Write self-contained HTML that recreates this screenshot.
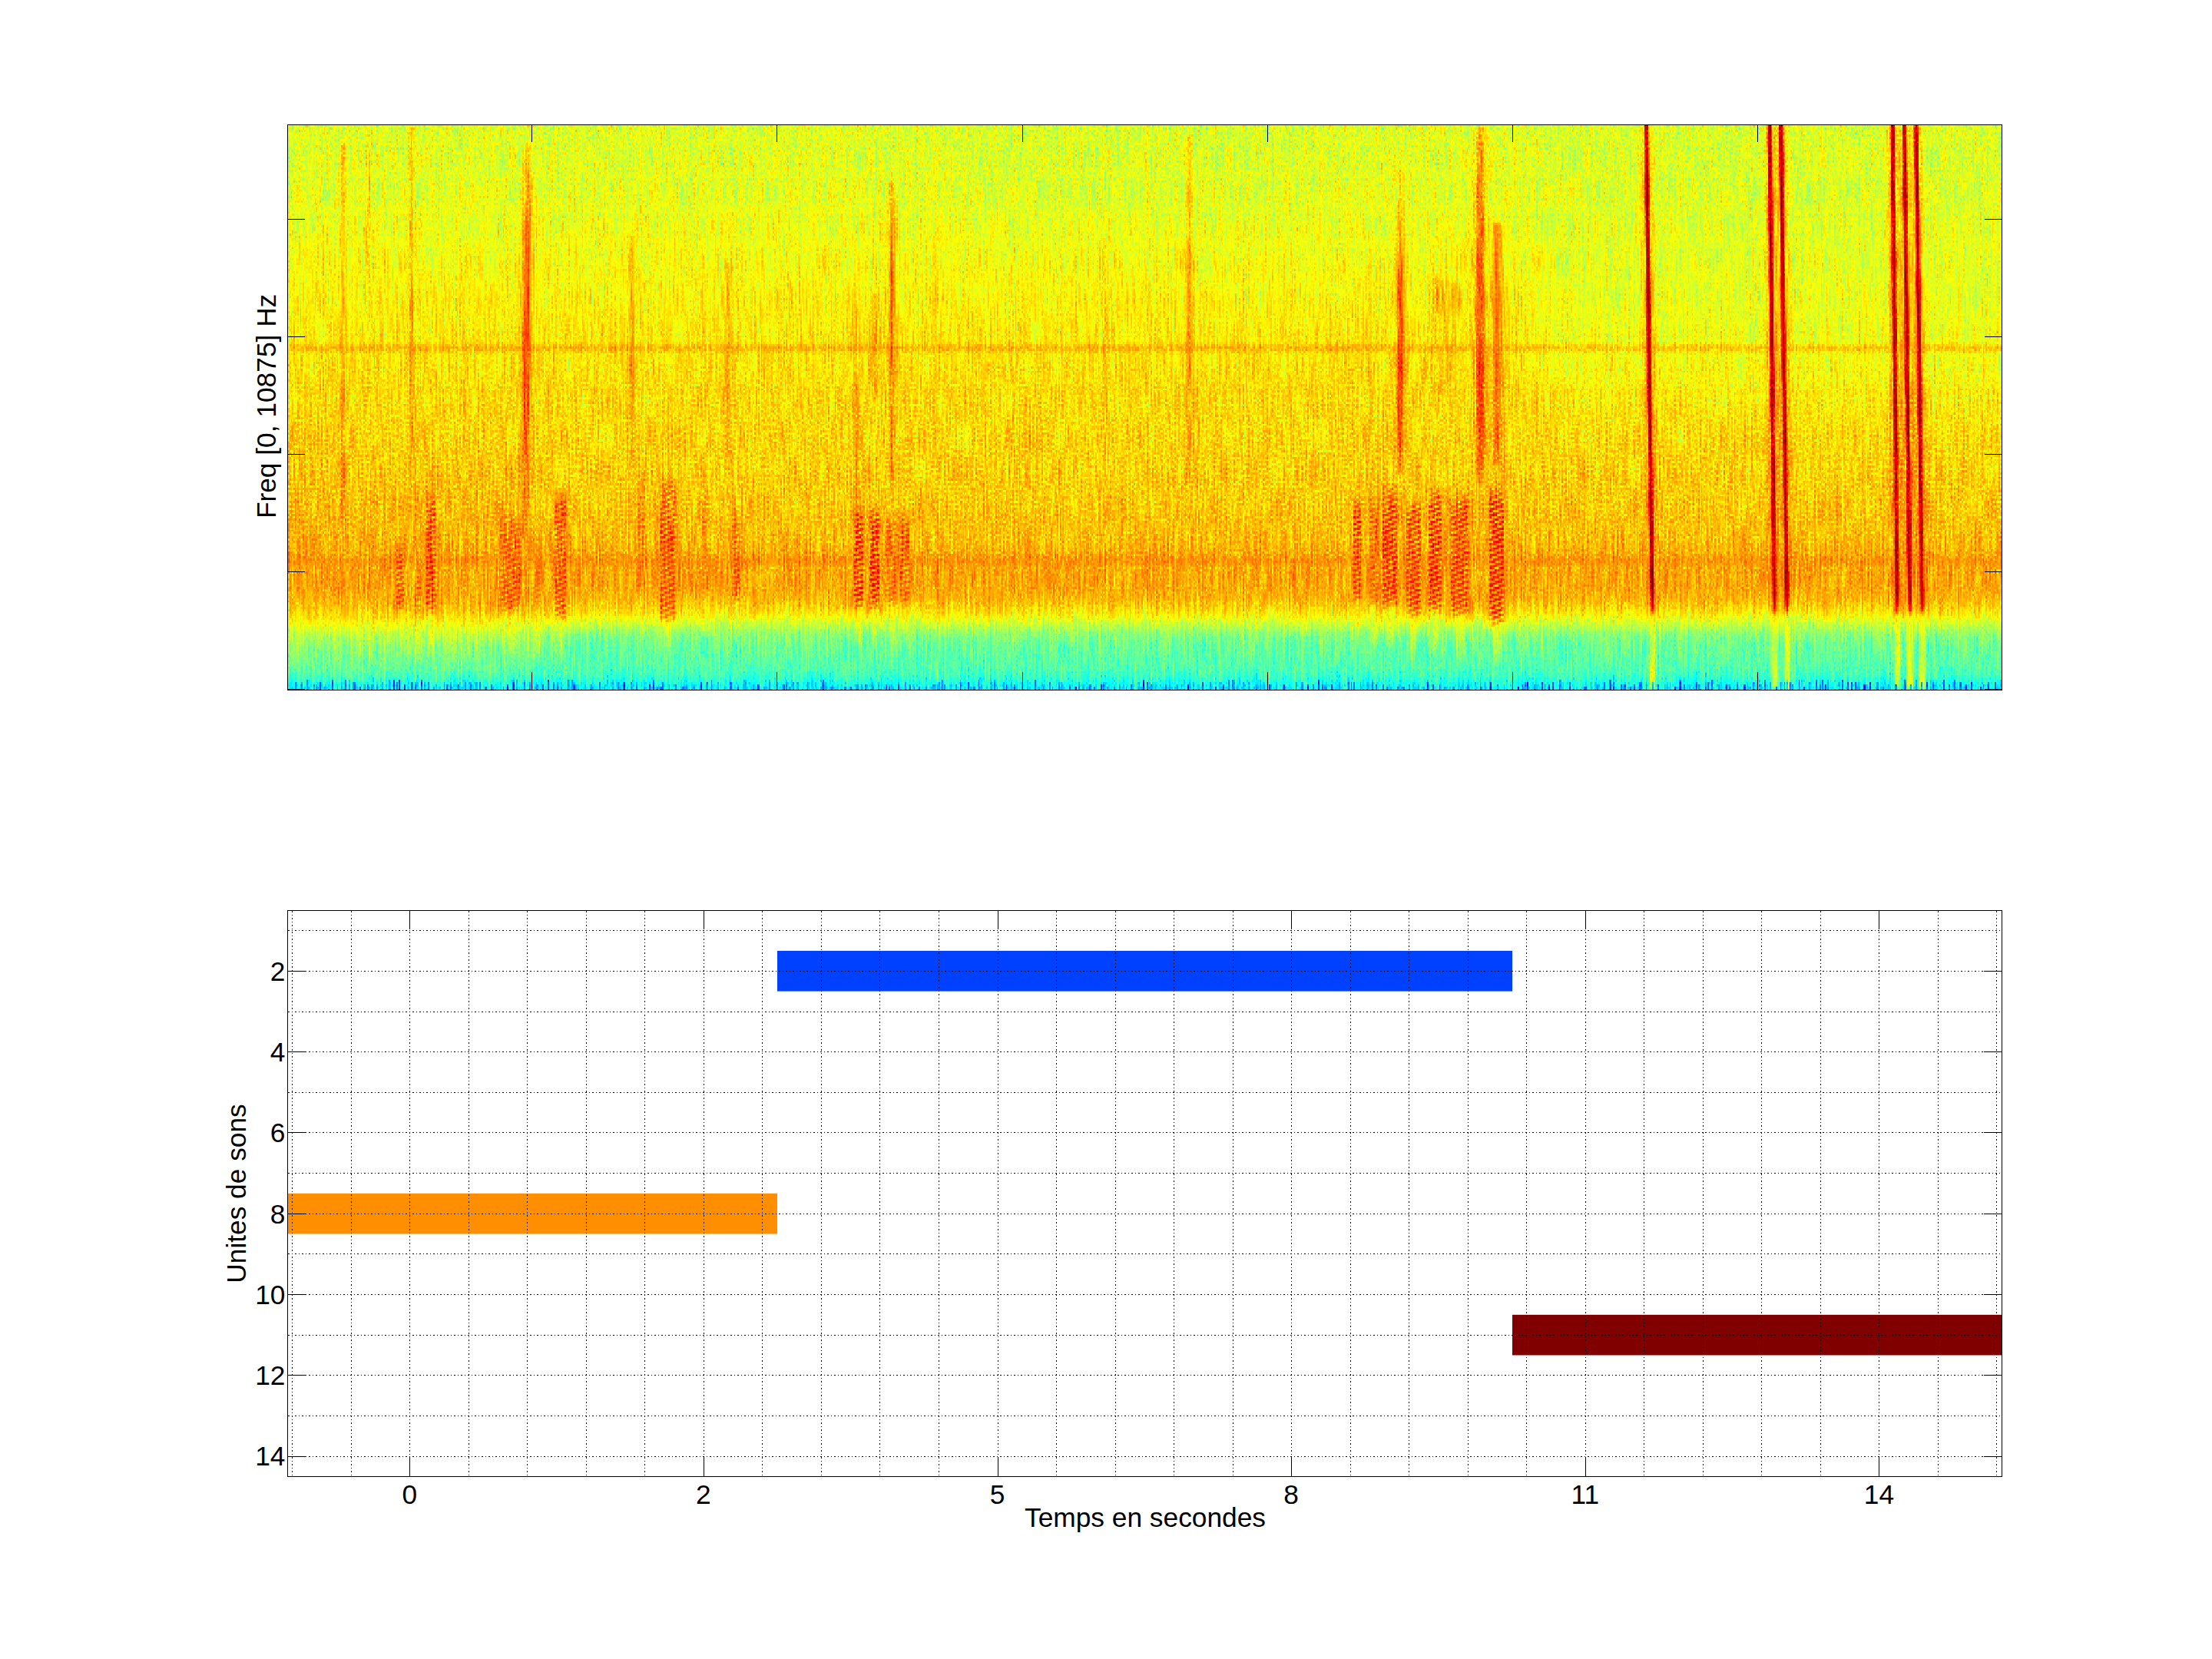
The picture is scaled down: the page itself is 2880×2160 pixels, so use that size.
<!DOCTYPE html><html><head><meta charset="utf-8"><title>Figure</title>
<style>html,body{margin:0;padding:0;background:#fff;width:2880px;height:2160px;overflow:hidden}svg{position:absolute;left:0;top:0}text{font-family:'Liberation Sans', Arial, Helvetica, sans-serif;font-size:35.3px;fill:#000}</style></head><body>
<svg width="2880" height="2160" viewBox="0 0 2880 2160">
<rect width="2880" height="2160" fill="#fff"/>
<defs><filter id="jet" x="375" y="163" width="2231" height="735" filterUnits="userSpaceOnUse" color-interpolation-filters="sRGB"><feTurbulence type="fractalNoise" baseFrequency="0.6 0.35" numOctaves="1" seed="11" result="na"/><feColorMatrix in="na" type="matrix" values="1 0 0 0 0 1 0 0 0 0 1 0 0 0 0 0 0 0 0 1" result="na"/><feComponentTransfer in="na" result="na"><feFuncR type="table" tableValues="0 0.06 0.22 0.38 0.5 0.6 0.68 0.74 0.8"/><feFuncG type="table" tableValues="0 0.06 0.22 0.38 0.5 0.6 0.68 0.74 0.8"/><feFuncB type="table" tableValues="0 0.06 0.22 0.38 0.5 0.6 0.68 0.74 0.8"/></feComponentTransfer><feTurbulence type="fractalNoise" baseFrequency="0.55 0.022" numOctaves="1" seed="4" result="nb"/><feColorMatrix in="nb" type="matrix" values="1 0 0 0 0 1 0 0 0 0 1 0 0 0 0 0 0 0 0 1" result="nb"/><feComposite in="na" in2="nb" operator="arithmetic" k2="0.270" k3="0.220" k4="0.255" result="n"/><feComposite in="SourceGraphic" in2="n" operator="arithmetic" k2="1" k3="1" k4="-0.5" result="v"/><feFlood flood-color="rgb(128,0,0)" x="375" y="163" width="12" height="1" result="tx"/><feFlood flood-color="rgb(64,0,0)" x="376" y="163" width="1" height="1" result="tx1"/><feFlood flood-color="rgb(64,0,0)" x="378" y="163" width="1" height="1" result="tx2"/><feFlood flood-color="rgb(64,0,0)" x="381" y="163" width="1" height="1" result="tx3"/><feFlood flood-color="rgb(64,0,0)" x="383" y="163" width="1" height="1" result="tx4"/><feFlood flood-color="rgb(64,0,0)" x="385" y="163" width="1" height="1" result="tx5"/><feMerge x="375" y="163" width="12" height="1" result="TX"><feMergeNode in="tx"/><feMergeNode in="tx1"/><feMergeNode in="tx2"/><feMergeNode in="tx3"/><feMergeNode in="tx4"/><feMergeNode in="tx5"/></feMerge><feFlood flood-color="rgb(0,128,0)" x="375" y="163" width="1" height="23" result="ty"/><feFlood flood-color="rgb(0,64,0)" x="375" y="164" width="1" height="1" result="ty1"/><feFlood flood-color="rgb(0,0,0)" x="375" y="165" width="1" height="1" result="ty2"/><feFlood flood-color="rgb(0,64,0)" x="375" y="167" width="1" height="1" result="ty3"/><feFlood flood-color="rgb(0,0,0)" x="375" y="168" width="1" height="1" result="ty4"/><feFlood flood-color="rgb(0,64,0)" x="375" y="170" width="1" height="1" result="ty5"/><feFlood flood-color="rgb(0,0,0)" x="375" y="171" width="1" height="1" result="ty6"/><feFlood flood-color="rgb(0,64,0)" x="375" y="173" width="1" height="1" result="ty7"/><feFlood flood-color="rgb(0,0,0)" x="375" y="174" width="1" height="1" result="ty8"/><feFlood flood-color="rgb(0,64,0)" x="375" y="176" width="1" height="1" result="ty9"/><feFlood flood-color="rgb(0,0,0)" x="375" y="177" width="1" height="1" result="ty10"/><feFlood flood-color="rgb(0,64,0)" x="375" y="179" width="1" height="1" result="ty11"/><feFlood flood-color="rgb(0,0,0)" x="375" y="180" width="1" height="1" result="ty12"/><feFlood flood-color="rgb(0,64,0)" x="375" y="182" width="1" height="1" result="ty13"/><feFlood flood-color="rgb(0,0,0)" x="375" y="183" width="1" height="1" result="ty14"/><feFlood flood-color="rgb(0,64,0)" x="375" y="185" width="1" height="1" result="ty15"/><feMerge x="375" y="163" width="1" height="23" result="TY"><feMergeNode in="ty"/><feMergeNode in="ty1"/><feMergeNode in="ty2"/><feMergeNode in="ty3"/><feMergeNode in="ty4"/><feMergeNode in="ty5"/><feMergeNode in="ty6"/><feMergeNode in="ty7"/><feMergeNode in="ty8"/><feMergeNode in="ty9"/><feMergeNode in="ty10"/><feMergeNode in="ty11"/><feMergeNode in="ty12"/><feMergeNode in="ty13"/><feMergeNode in="ty14"/><feMergeNode in="ty15"/></feMerge><feTile in="TX" x="375" y="163" width="2231" height="735" result="MX"/><feTile in="TY" x="375" y="163" width="2231" height="735" result="MY"/><feComposite in="MX" in2="MY" operator="arithmetic" k2="1" k3="1" x="375" y="163" width="2231" height="735" result="M"/><feDisplacementMap in="v" in2="M" scale="4" xChannelSelector="R" yChannelSelector="G" result="v"/><feComponentTransfer in="v"><feFuncR type="table" tableValues="0 0 0 0 0.5 1 1 1 0.5"/><feFuncG type="table" tableValues="0 0 0.5 1 1 1 0.5 0 0"/><feFuncB type="table" tableValues="0.5 1 1 1 0.5 0 0 0 0"/><feFuncA type="identity"/></feComponentTransfer></filter><filter id="b1" x="225" y="13" width="2531" height="1035" filterUnits="userSpaceOnUse"><feGaussianBlur stdDeviation="1 1.5"/></filter><filter id="b2" x="225" y="13" width="2531" height="1035" filterUnits="userSpaceOnUse"><feGaussianBlur stdDeviation="2.5 3"/></filter><filter id="b3" x="225" y="13" width="2531" height="1035" filterUnits="userSpaceOnUse"><feGaussianBlur stdDeviation="30 40"/></filter><filter id="bh" x="225" y="13" width="2531" height="1035" filterUnits="userSpaceOnUse"><feGaussianBlur stdDeviation="1 3"/></filter><filter id="bv" x="225" y="13" width="2531" height="1035" filterUnits="userSpaceOnUse"><feGaussianBlur stdDeviation="0.6 2"/></filter><filter id="bs" x="225" y="13" width="2531" height="1035" filterUnits="userSpaceOnUse"><feGaussianBlur stdDeviation="0.7 0.7"/></filter><linearGradient id="bg" gradientUnits="userSpaceOnUse" x1="0" y1="163" x2="0" y2="898"><stop offset="0.0000" stop-color="rgb(152,152,152)"/><stop offset="0.1184" stop-color="rgb(154,154,154)"/><stop offset="0.2544" stop-color="rgb(159,159,159)"/><stop offset="0.3769" stop-color="rgb(164,164,164)"/><stop offset="0.4857" stop-color="rgb(168,168,168)"/><stop offset="0.5946" stop-color="rgb(170,170,170)"/><stop offset="0.6762" stop-color="rgb(173,173,173)"/><stop offset="0.7306" stop-color="rgb(176,176,176)"/><stop offset="0.7605" stop-color="rgb(180,180,180)"/><stop offset="0.7918" stop-color="rgb(182,182,182)"/><stop offset="0.8190" stop-color="rgb(181,181,181)"/><stop offset="0.8367" stop-color="rgb(178,178,178)"/><stop offset="0.8503" stop-color="rgb(172,172,172)"/><stop offset="0.8626" stop-color="rgb(164,164,164)"/><stop offset="0.8748" stop-color="rgb(153,153,153)"/><stop offset="0.8871" stop-color="rgb(142,142,142)"/><stop offset="0.9007" stop-color="rgb(130,130,130)"/><stop offset="0.9211" stop-color="rgb(122,122,122)"/><stop offset="0.9619" stop-color="rgb(116,116,116)"/><stop offset="0.9728" stop-color="rgb(112,112,112)"/><stop offset="0.9837" stop-color="rgb(103,103,103)"/><stop offset="1.0000" stop-color="rgb(94,94,94)"/></linearGradient><linearGradient id="f1" gradientUnits="userSpaceOnUse" x1="0" y1="185" x2="0" y2="800"><stop offset="0.000" stop-color="rgb(184,184,184)" stop-opacity="0.27"/><stop offset="0.187" stop-color="rgb(184,184,184)" stop-opacity="0.30"/><stop offset="0.431" stop-color="rgb(184,184,184)" stop-opacity="0.36"/><stop offset="0.593" stop-color="rgb(184,184,184)" stop-opacity="0.45"/><stop offset="0.707" stop-color="rgb(184,184,184)" stop-opacity="0.48"/><stop offset="0.837" stop-color="rgb(184,184,184)" stop-opacity="0.36"/><stop offset="1.000" stop-color="rgb(184,184,184)" stop-opacity="0.18"/></linearGradient><linearGradient id="f2" gradientUnits="userSpaceOnUse" x1="0" y1="165" x2="0" y2="390"><stop offset="0.000" stop-color="rgb(184,184,184)" stop-opacity="0.21"/><stop offset="0.511" stop-color="rgb(184,184,184)" stop-opacity="0.27"/><stop offset="0.840" stop-color="rgb(184,184,184)" stop-opacity="0.18"/><stop offset="1.000" stop-color="rgb(184,184,184)" stop-opacity="0.03"/></linearGradient><linearGradient id="f3" gradientUnits="userSpaceOnUse" x1="0" y1="165" x2="0" y2="640"><stop offset="0.000" stop-color="rgb(184,184,184)" stop-opacity="0.36"/><stop offset="0.284" stop-color="rgb(184,184,184)" stop-opacity="0.36"/><stop offset="0.411" stop-color="rgb(184,184,184)" stop-opacity="0.42"/><stop offset="0.579" stop-color="rgb(184,184,184)" stop-opacity="0.54"/><stop offset="0.632" stop-color="rgb(184,184,184)" stop-opacity="0.45"/><stop offset="0.832" stop-color="rgb(184,184,184)" stop-opacity="0.33"/><stop offset="1.000" stop-color="rgb(184,184,184)" stop-opacity="0.18"/></linearGradient><linearGradient id="f4" gradientUnits="userSpaceOnUse" x1="0" y1="354" x2="0" y2="700"><stop offset="0.000" stop-color="rgb(184,184,184)" stop-opacity="0.09"/><stop offset="0.422" stop-color="rgb(184,184,184)" stop-opacity="0.18"/><stop offset="0.769" stop-color="rgb(184,184,184)" stop-opacity="0.18"/><stop offset="1.000" stop-color="rgb(184,184,184)" stop-opacity="0.06"/></linearGradient><linearGradient id="f5" gradientUnits="userSpaceOnUse" x1="0" y1="185" x2="0" y2="700"><stop offset="0.000" stop-color="rgb(184,184,184)" stop-opacity="0.18"/><stop offset="0.146" stop-color="rgb(184,184,184)" stop-opacity="0.33"/><stop offset="0.282" stop-color="rgb(184,184,184)" stop-opacity="0.48"/><stop offset="0.495" stop-color="rgb(184,184,184)" stop-opacity="0.60"/><stop offset="0.612" stop-color="rgb(184,184,184)" stop-opacity="0.60"/><stop offset="0.806" stop-color="rgb(184,184,184)" stop-opacity="0.48"/><stop offset="0.903" stop-color="rgb(184,184,184)" stop-opacity="0.27"/><stop offset="1.000" stop-color="rgb(184,184,184)" stop-opacity="0.12"/></linearGradient><linearGradient id="f6" gradientUnits="userSpaceOnUse" x1="0" y1="305" x2="0" y2="610"><stop offset="0.000" stop-color="rgb(184,184,184)" stop-opacity="0.18"/><stop offset="0.311" stop-color="rgb(184,184,184)" stop-opacity="0.36"/><stop offset="0.639" stop-color="rgb(184,184,184)" stop-opacity="0.39"/><stop offset="1.000" stop-color="rgb(184,184,184)" stop-opacity="0.15"/></linearGradient><linearGradient id="f7" gradientUnits="userSpaceOnUse" x1="0" y1="320" x2="0" y2="600"><stop offset="0.000" stop-color="rgb(184,184,184)" stop-opacity="0.12"/><stop offset="0.500" stop-color="rgb(184,184,184)" stop-opacity="0.18"/><stop offset="1.000" stop-color="rgb(184,184,184)" stop-opacity="0.06"/></linearGradient><linearGradient id="f8" gradientUnits="userSpaceOnUse" x1="0" y1="340" x2="0" y2="650"><stop offset="0.000" stop-color="rgb(184,184,184)" stop-opacity="0.18"/><stop offset="0.355" stop-color="rgb(184,184,184)" stop-opacity="0.36"/><stop offset="0.710" stop-color="rgb(184,184,184)" stop-opacity="0.33"/><stop offset="1.000" stop-color="rgb(184,184,184)" stop-opacity="0.12"/></linearGradient><linearGradient id="f9" gradientUnits="userSpaceOnUse" x1="0" y1="400" x2="0" y2="600"><stop offset="0.000" stop-color="rgb(184,184,184)" stop-opacity="0.12"/><stop offset="1.000" stop-color="rgb(184,184,184)" stop-opacity="0.06"/></linearGradient><linearGradient id="f10" gradientUnits="userSpaceOnUse" x1="0" y1="290" x2="0" y2="500"><stop offset="0.000" stop-color="rgb(184,184,184)" stop-opacity="0.12"/><stop offset="1.000" stop-color="rgb(184,184,184)" stop-opacity="0.06"/></linearGradient><linearGradient id="f11" gradientUnits="userSpaceOnUse" x1="0" y1="400" x2="0" y2="650"><stop offset="0.000" stop-color="rgb(184,184,184)" stop-opacity="0.18"/><stop offset="0.600" stop-color="rgb(184,184,184)" stop-opacity="0.33"/><stop offset="1.000" stop-color="rgb(184,184,184)" stop-opacity="0.36"/></linearGradient><linearGradient id="f12" gradientUnits="userSpaceOnUse" x1="0" y1="380" x2="0" y2="520"><stop offset="0.000" stop-color="rgb(184,184,184)" stop-opacity="0.18"/><stop offset="0.500" stop-color="rgb(184,184,184)" stop-opacity="0.33"/><stop offset="1.000" stop-color="rgb(184,184,184)" stop-opacity="0.18"/></linearGradient><linearGradient id="f13" gradientUnits="userSpaceOnUse" x1="0" y1="235" x2="0" y2="650"><stop offset="0.000" stop-color="rgb(184,184,184)" stop-opacity="0.18"/><stop offset="0.157" stop-color="rgb(184,184,184)" stop-opacity="0.36"/><stop offset="0.373" stop-color="rgb(184,184,184)" stop-opacity="0.54"/><stop offset="0.470" stop-color="rgb(184,184,184)" stop-opacity="0.54"/><stop offset="0.687" stop-color="rgb(184,184,184)" stop-opacity="0.36"/><stop offset="0.906" stop-color="rgb(184,184,184)" stop-opacity="0.24"/><stop offset="1.000" stop-color="rgb(184,184,184)" stop-opacity="0.12"/></linearGradient><linearGradient id="f14" gradientUnits="userSpaceOnUse" x1="0" y1="300" x2="0" y2="611"><stop offset="0.000" stop-color="rgb(184,184,184)" stop-opacity="0.12"/><stop offset="0.643" stop-color="rgb(184,184,184)" stop-opacity="0.18"/><stop offset="1.000" stop-color="rgb(184,184,184)" stop-opacity="0.12"/></linearGradient><linearGradient id="f15" gradientUnits="userSpaceOnUse" x1="0" y1="165" x2="0" y2="880"><stop offset="0.000" stop-color="rgb(184,184,184)" stop-opacity="0.15"/><stop offset="0.469" stop-color="rgb(184,184,184)" stop-opacity="0.18"/><stop offset="1.000" stop-color="rgb(184,184,184)" stop-opacity="0.09"/></linearGradient><linearGradient id="f16" gradientUnits="userSpaceOnUse" x1="0" y1="360" x2="0" y2="800"><stop offset="0.000" stop-color="rgb(184,184,184)" stop-opacity="0.09"/><stop offset="0.545" stop-color="rgb(184,184,184)" stop-opacity="0.12"/><stop offset="1.000" stop-color="rgb(184,184,184)" stop-opacity="0.06"/></linearGradient><linearGradient id="f17" gradientUnits="userSpaceOnUse" x1="0" y1="270" x2="0" y2="600"><stop offset="0.000" stop-color="rgb(184,184,184)" stop-opacity="0.12"/><stop offset="0.545" stop-color="rgb(184,184,184)" stop-opacity="0.24"/><stop offset="1.000" stop-color="rgb(184,184,184)" stop-opacity="0.09"/></linearGradient><linearGradient id="f18" gradientUnits="userSpaceOnUse" x1="0" y1="165" x2="0" y2="500"><stop offset="0.000" stop-color="rgb(184,184,184)" stop-opacity="0.12"/><stop offset="1.000" stop-color="rgb(184,184,184)" stop-opacity="0.06"/></linearGradient><linearGradient id="f19" gradientUnits="userSpaceOnUse" x1="0" y1="175" x2="0" y2="628"><stop offset="0.000" stop-color="rgb(184,184,184)" stop-opacity="0.21"/><stop offset="0.276" stop-color="rgb(184,184,184)" stop-opacity="0.33"/><stop offset="0.386" stop-color="rgb(184,184,184)" stop-opacity="0.45"/><stop offset="0.717" stop-color="rgb(184,184,184)" stop-opacity="0.39"/><stop offset="1.000" stop-color="rgb(184,184,184)" stop-opacity="0.21"/></linearGradient><linearGradient id="f20" gradientUnits="userSpaceOnUse" x1="0" y1="300" x2="0" y2="700"><stop offset="0.000" stop-color="rgb(184,184,184)" stop-opacity="0.12"/><stop offset="0.500" stop-color="rgb(184,184,184)" stop-opacity="0.18"/><stop offset="1.000" stop-color="rgb(184,184,184)" stop-opacity="0.06"/></linearGradient><linearGradient id="f21" gradientUnits="userSpaceOnUse" x1="0" y1="220" x2="0" y2="618"><stop offset="0.000" stop-color="rgb(184,184,184)" stop-opacity="0.12"/><stop offset="0.276" stop-color="rgb(184,184,184)" stop-opacity="0.27"/><stop offset="0.352" stop-color="rgb(184,184,184)" stop-opacity="0.54"/><stop offset="0.452" stop-color="rgb(184,184,184)" stop-opacity="0.57"/><stop offset="0.553" stop-color="rgb(184,184,184)" stop-opacity="0.48"/><stop offset="0.628" stop-color="rgb(184,184,184)" stop-opacity="0.60"/><stop offset="0.754" stop-color="rgb(184,184,184)" stop-opacity="0.60"/><stop offset="1.000" stop-color="rgb(184,184,184)" stop-opacity="0.27"/></linearGradient><linearGradient id="f22" gradientUnits="userSpaceOnUse" x1="0" y1="165" x2="0" y2="630"><stop offset="0.000" stop-color="rgb(184,184,184)" stop-opacity="0.21"/><stop offset="0.290" stop-color="rgb(184,184,184)" stop-opacity="0.42"/><stop offset="0.548" stop-color="rgb(184,184,184)" stop-opacity="0.48"/><stop offset="0.677" stop-color="rgb(184,184,184)" stop-opacity="0.60"/><stop offset="0.849" stop-color="rgb(184,184,184)" stop-opacity="0.60"/><stop offset="0.935" stop-color="rgb(184,184,184)" stop-opacity="0.36"/><stop offset="1.000" stop-color="rgb(184,184,184)" stop-opacity="0.15"/></linearGradient><linearGradient id="f23" gradientUnits="userSpaceOnUse" x1="0" y1="289" x2="0" y2="606"><stop offset="0.000" stop-color="rgb(184,184,184)" stop-opacity="0.36"/><stop offset="0.508" stop-color="rgb(184,184,184)" stop-opacity="0.45"/><stop offset="1.000" stop-color="rgb(184,184,184)" stop-opacity="0.39"/></linearGradient><linearGradient id="f24" gradientUnits="userSpaceOnUse" x1="0" y1="290" x2="0" y2="640"><stop offset="0.000" stop-color="rgb(184,184,184)" stop-opacity="0.18"/><stop offset="0.314" stop-color="rgb(184,184,184)" stop-opacity="0.33"/><stop offset="0.886" stop-color="rgb(184,184,184)" stop-opacity="0.30"/><stop offset="1.000" stop-color="rgb(184,184,184)" stop-opacity="0.06"/></linearGradient><linearGradient id="f25" gradientUnits="userSpaceOnUse" x1="0" y1="185" x2="0" y2="800"><stop offset="0.000" stop-color="rgb(194,194,194)" stop-opacity="0.45"/><stop offset="0.187" stop-color="rgb(194,194,194)" stop-opacity="0.50"/><stop offset="0.431" stop-color="rgb(194,194,194)" stop-opacity="0.60"/><stop offset="0.593" stop-color="rgb(194,194,194)" stop-opacity="0.75"/><stop offset="0.707" stop-color="rgb(194,194,194)" stop-opacity="0.80"/><stop offset="0.837" stop-color="rgb(194,194,194)" stop-opacity="0.60"/><stop offset="1.000" stop-color="rgb(194,194,194)" stop-opacity="0.30"/></linearGradient><linearGradient id="f26" gradientUnits="userSpaceOnUse" x1="0" y1="165" x2="0" y2="390"><stop offset="0.000" stop-color="rgb(186,186,186)" stop-opacity="0.35"/><stop offset="0.511" stop-color="rgb(186,186,186)" stop-opacity="0.45"/><stop offset="0.840" stop-color="rgb(186,186,186)" stop-opacity="0.30"/><stop offset="1.000" stop-color="rgb(186,186,186)" stop-opacity="0.05"/></linearGradient><linearGradient id="f27" gradientUnits="userSpaceOnUse" x1="0" y1="165" x2="0" y2="640"><stop offset="0.000" stop-color="rgb(194,194,194)" stop-opacity="0.60"/><stop offset="0.284" stop-color="rgb(194,194,194)" stop-opacity="0.60"/><stop offset="0.411" stop-color="rgb(194,194,194)" stop-opacity="0.70"/><stop offset="0.579" stop-color="rgb(194,194,194)" stop-opacity="0.90"/><stop offset="0.632" stop-color="rgb(194,194,194)" stop-opacity="0.75"/><stop offset="0.832" stop-color="rgb(194,194,194)" stop-opacity="0.55"/><stop offset="1.000" stop-color="rgb(194,194,194)" stop-opacity="0.30"/></linearGradient><linearGradient id="f28" gradientUnits="userSpaceOnUse" x1="0" y1="354" x2="0" y2="700"><stop offset="0.000" stop-color="rgb(186,186,186)" stop-opacity="0.15"/><stop offset="0.422" stop-color="rgb(186,186,186)" stop-opacity="0.30"/><stop offset="0.769" stop-color="rgb(186,186,186)" stop-opacity="0.30"/><stop offset="1.000" stop-color="rgb(186,186,186)" stop-opacity="0.10"/></linearGradient><linearGradient id="f29" gradientUnits="userSpaceOnUse" x1="0" y1="185" x2="0" y2="700"><stop offset="0.000" stop-color="rgb(204,204,204)" stop-opacity="0.30"/><stop offset="0.146" stop-color="rgb(204,204,204)" stop-opacity="0.55"/><stop offset="0.282" stop-color="rgb(204,204,204)" stop-opacity="0.80"/><stop offset="0.495" stop-color="rgb(204,204,204)" stop-opacity="1.00"/><stop offset="0.612" stop-color="rgb(204,204,204)" stop-opacity="1.00"/><stop offset="0.806" stop-color="rgb(204,204,204)" stop-opacity="0.80"/><stop offset="0.903" stop-color="rgb(204,204,204)" stop-opacity="0.45"/><stop offset="1.000" stop-color="rgb(204,204,204)" stop-opacity="0.20"/></linearGradient><linearGradient id="f30" gradientUnits="userSpaceOnUse" x1="0" y1="305" x2="0" y2="610"><stop offset="0.000" stop-color="rgb(191,191,191)" stop-opacity="0.30"/><stop offset="0.311" stop-color="rgb(191,191,191)" stop-opacity="0.60"/><stop offset="0.639" stop-color="rgb(191,191,191)" stop-opacity="0.65"/><stop offset="1.000" stop-color="rgb(191,191,191)" stop-opacity="0.25"/></linearGradient><linearGradient id="f31" gradientUnits="userSpaceOnUse" x1="0" y1="320" x2="0" y2="600"><stop offset="0.000" stop-color="rgb(184,184,184)" stop-opacity="0.20"/><stop offset="0.500" stop-color="rgb(184,184,184)" stop-opacity="0.30"/><stop offset="1.000" stop-color="rgb(184,184,184)" stop-opacity="0.10"/></linearGradient><linearGradient id="f32" gradientUnits="userSpaceOnUse" x1="0" y1="340" x2="0" y2="650"><stop offset="0.000" stop-color="rgb(191,191,191)" stop-opacity="0.30"/><stop offset="0.355" stop-color="rgb(191,191,191)" stop-opacity="0.60"/><stop offset="0.710" stop-color="rgb(191,191,191)" stop-opacity="0.55"/><stop offset="1.000" stop-color="rgb(191,191,191)" stop-opacity="0.20"/></linearGradient><linearGradient id="f33" gradientUnits="userSpaceOnUse" x1="0" y1="400" x2="0" y2="600"><stop offset="0.000" stop-color="rgb(184,184,184)" stop-opacity="0.20"/><stop offset="1.000" stop-color="rgb(184,184,184)" stop-opacity="0.10"/></linearGradient><linearGradient id="f34" gradientUnits="userSpaceOnUse" x1="0" y1="290" x2="0" y2="500"><stop offset="0.000" stop-color="rgb(184,184,184)" stop-opacity="0.20"/><stop offset="1.000" stop-color="rgb(184,184,184)" stop-opacity="0.10"/></linearGradient><linearGradient id="f35" gradientUnits="userSpaceOnUse" x1="0" y1="400" x2="0" y2="650"><stop offset="0.000" stop-color="rgb(194,194,194)" stop-opacity="0.30"/><stop offset="0.600" stop-color="rgb(194,194,194)" stop-opacity="0.55"/><stop offset="1.000" stop-color="rgb(194,194,194)" stop-opacity="0.60"/></linearGradient><linearGradient id="f36" gradientUnits="userSpaceOnUse" x1="0" y1="380" x2="0" y2="520"><stop offset="0.000" stop-color="rgb(191,191,191)" stop-opacity="0.30"/><stop offset="0.500" stop-color="rgb(191,191,191)" stop-opacity="0.55"/><stop offset="1.000" stop-color="rgb(191,191,191)" stop-opacity="0.30"/></linearGradient><linearGradient id="f37" gradientUnits="userSpaceOnUse" x1="0" y1="235" x2="0" y2="650"><stop offset="0.000" stop-color="rgb(201,201,201)" stop-opacity="0.30"/><stop offset="0.157" stop-color="rgb(201,201,201)" stop-opacity="0.60"/><stop offset="0.373" stop-color="rgb(201,201,201)" stop-opacity="0.90"/><stop offset="0.470" stop-color="rgb(201,201,201)" stop-opacity="0.90"/><stop offset="0.687" stop-color="rgb(201,201,201)" stop-opacity="0.60"/><stop offset="0.906" stop-color="rgb(201,201,201)" stop-opacity="0.40"/><stop offset="1.000" stop-color="rgb(201,201,201)" stop-opacity="0.20"/></linearGradient><linearGradient id="f38" gradientUnits="userSpaceOnUse" x1="0" y1="300" x2="0" y2="611"><stop offset="0.000" stop-color="rgb(184,184,184)" stop-opacity="0.20"/><stop offset="0.643" stop-color="rgb(184,184,184)" stop-opacity="0.30"/><stop offset="1.000" stop-color="rgb(184,184,184)" stop-opacity="0.20"/></linearGradient><linearGradient id="f39" gradientUnits="userSpaceOnUse" x1="0" y1="165" x2="0" y2="880"><stop offset="0.000" stop-color="rgb(184,184,184)" stop-opacity="0.25"/><stop offset="0.469" stop-color="rgb(184,184,184)" stop-opacity="0.30"/><stop offset="1.000" stop-color="rgb(184,184,184)" stop-opacity="0.15"/></linearGradient><linearGradient id="f40" gradientUnits="userSpaceOnUse" x1="0" y1="360" x2="0" y2="800"><stop offset="0.000" stop-color="rgb(184,184,184)" stop-opacity="0.15"/><stop offset="0.545" stop-color="rgb(184,184,184)" stop-opacity="0.20"/><stop offset="1.000" stop-color="rgb(184,184,184)" stop-opacity="0.10"/></linearGradient><linearGradient id="f41" gradientUnits="userSpaceOnUse" x1="0" y1="270" x2="0" y2="600"><stop offset="0.000" stop-color="rgb(189,189,189)" stop-opacity="0.20"/><stop offset="0.545" stop-color="rgb(189,189,189)" stop-opacity="0.40"/><stop offset="1.000" stop-color="rgb(189,189,189)" stop-opacity="0.15"/></linearGradient><linearGradient id="f42" gradientUnits="userSpaceOnUse" x1="0" y1="165" x2="0" y2="500"><stop offset="0.000" stop-color="rgb(184,184,184)" stop-opacity="0.20"/><stop offset="1.000" stop-color="rgb(184,184,184)" stop-opacity="0.10"/></linearGradient><linearGradient id="f43" gradientUnits="userSpaceOnUse" x1="0" y1="175" x2="0" y2="628"><stop offset="0.000" stop-color="rgb(194,194,194)" stop-opacity="0.35"/><stop offset="0.276" stop-color="rgb(194,194,194)" stop-opacity="0.55"/><stop offset="0.386" stop-color="rgb(194,194,194)" stop-opacity="0.75"/><stop offset="0.717" stop-color="rgb(194,194,194)" stop-opacity="0.65"/><stop offset="1.000" stop-color="rgb(194,194,194)" stop-opacity="0.35"/></linearGradient><linearGradient id="f44" gradientUnits="userSpaceOnUse" x1="0" y1="300" x2="0" y2="700"><stop offset="0.000" stop-color="rgb(184,184,184)" stop-opacity="0.20"/><stop offset="0.500" stop-color="rgb(184,184,184)" stop-opacity="0.30"/><stop offset="1.000" stop-color="rgb(184,184,184)" stop-opacity="0.10"/></linearGradient><linearGradient id="f45" gradientUnits="userSpaceOnUse" x1="0" y1="220" x2="0" y2="618"><stop offset="0.000" stop-color="rgb(207,207,207)" stop-opacity="0.20"/><stop offset="0.276" stop-color="rgb(207,207,207)" stop-opacity="0.45"/><stop offset="0.352" stop-color="rgb(207,207,207)" stop-opacity="0.90"/><stop offset="0.452" stop-color="rgb(207,207,207)" stop-opacity="0.95"/><stop offset="0.553" stop-color="rgb(207,207,207)" stop-opacity="0.80"/><stop offset="0.628" stop-color="rgb(207,207,207)" stop-opacity="1.00"/><stop offset="0.754" stop-color="rgb(207,207,207)" stop-opacity="1.00"/><stop offset="1.000" stop-color="rgb(207,207,207)" stop-opacity="0.45"/></linearGradient><linearGradient id="f46" gradientUnits="userSpaceOnUse" x1="0" y1="165" x2="0" y2="630"><stop offset="0.000" stop-color="rgb(209,209,209)" stop-opacity="0.35"/><stop offset="0.290" stop-color="rgb(209,209,209)" stop-opacity="0.70"/><stop offset="0.548" stop-color="rgb(209,209,209)" stop-opacity="0.80"/><stop offset="0.677" stop-color="rgb(209,209,209)" stop-opacity="1.00"/><stop offset="0.849" stop-color="rgb(209,209,209)" stop-opacity="1.00"/><stop offset="0.935" stop-color="rgb(209,209,209)" stop-opacity="0.60"/><stop offset="1.000" stop-color="rgb(209,209,209)" stop-opacity="0.25"/></linearGradient><linearGradient id="f47" gradientUnits="userSpaceOnUse" x1="0" y1="289" x2="0" y2="606"><stop offset="0.000" stop-color="rgb(201,201,201)" stop-opacity="0.60"/><stop offset="0.508" stop-color="rgb(201,201,201)" stop-opacity="0.75"/><stop offset="1.000" stop-color="rgb(201,201,201)" stop-opacity="0.65"/></linearGradient><linearGradient id="f48" gradientUnits="userSpaceOnUse" x1="0" y1="290" x2="0" y2="640"><stop offset="0.000" stop-color="rgb(191,191,191)" stop-opacity="0.30"/><stop offset="0.314" stop-color="rgb(191,191,191)" stop-opacity="0.55"/><stop offset="0.886" stop-color="rgb(191,191,191)" stop-opacity="0.50"/><stop offset="1.000" stop-color="rgb(191,191,191)" stop-opacity="0.10"/></linearGradient><linearGradient id="f49" gradientUnits="userSpaceOnUse" x1="0" y1="685" x2="0" y2="805"><stop offset="0.000" stop-color="rgb(187,187,187)" stop-opacity="0.00"/><stop offset="0.250" stop-color="rgb(187,187,187)" stop-opacity="0.45"/><stop offset="0.792" stop-color="rgb(187,187,187)" stop-opacity="0.45"/><stop offset="1.000" stop-color="rgb(187,187,187)" stop-opacity="0.00"/></linearGradient><linearGradient id="f50" gradientUnits="userSpaceOnUse" x1="0" y1="705" x2="0" y2="815"><stop offset="0.000" stop-color="rgb(187,187,187)" stop-opacity="0.00"/><stop offset="0.273" stop-color="rgb(187,187,187)" stop-opacity="0.35"/><stop offset="0.773" stop-color="rgb(187,187,187)" stop-opacity="0.35"/><stop offset="1.000" stop-color="rgb(187,187,187)" stop-opacity="0.00"/></linearGradient><linearGradient id="f51" gradientUnits="userSpaceOnUse" x1="0" y1="625" x2="0" y2="810"><stop offset="0.000" stop-color="rgb(187,187,187)" stop-opacity="0.00"/><stop offset="0.162" stop-color="rgb(187,187,187)" stop-opacity="0.45"/><stop offset="0.865" stop-color="rgb(187,187,187)" stop-opacity="0.45"/><stop offset="1.000" stop-color="rgb(187,187,187)" stop-opacity="0.00"/></linearGradient><linearGradient id="f52" gradientUnits="userSpaceOnUse" x1="0" y1="655" x2="0" y2="810"><stop offset="0.000" stop-color="rgb(187,187,187)" stop-opacity="0.00"/><stop offset="0.194" stop-color="rgb(187,187,187)" stop-opacity="0.40"/><stop offset="0.839" stop-color="rgb(187,187,187)" stop-opacity="0.40"/><stop offset="1.000" stop-color="rgb(187,187,187)" stop-opacity="0.00"/></linearGradient><linearGradient id="f53" gradientUnits="userSpaceOnUse" x1="0" y1="685" x2="0" y2="810"><stop offset="0.000" stop-color="rgb(187,187,187)" stop-opacity="0.00"/><stop offset="0.240" stop-color="rgb(187,187,187)" stop-opacity="0.30"/><stop offset="0.800" stop-color="rgb(187,187,187)" stop-opacity="0.30"/><stop offset="1.000" stop-color="rgb(187,187,187)" stop-opacity="0.00"/></linearGradient><linearGradient id="f54" gradientUnits="userSpaceOnUse" x1="0" y1="625" x2="0" y2="820"><stop offset="0.000" stop-color="rgb(187,187,187)" stop-opacity="0.00"/><stop offset="0.154" stop-color="rgb(187,187,187)" stop-opacity="0.42"/><stop offset="0.872" stop-color="rgb(187,187,187)" stop-opacity="0.42"/><stop offset="1.000" stop-color="rgb(187,187,187)" stop-opacity="0.00"/></linearGradient><linearGradient id="f55" gradientUnits="userSpaceOnUse" x1="0" y1="595" x2="0" y2="790"><stop offset="0.000" stop-color="rgb(187,187,187)" stop-opacity="0.00"/><stop offset="0.154" stop-color="rgb(187,187,187)" stop-opacity="0.30"/><stop offset="0.872" stop-color="rgb(187,187,187)" stop-opacity="0.30"/><stop offset="1.000" stop-color="rgb(187,187,187)" stop-opacity="0.00"/></linearGradient><linearGradient id="f56" gradientUnits="userSpaceOnUse" x1="0" y1="605" x2="0" y2="820"><stop offset="0.000" stop-color="rgb(187,187,187)" stop-opacity="0.00"/><stop offset="0.140" stop-color="rgb(187,187,187)" stop-opacity="0.40"/><stop offset="0.884" stop-color="rgb(187,187,187)" stop-opacity="0.40"/><stop offset="1.000" stop-color="rgb(187,187,187)" stop-opacity="0.00"/></linearGradient><linearGradient id="f57" gradientUnits="userSpaceOnUse" x1="0" y1="625" x2="0" y2="790"><stop offset="0.000" stop-color="rgb(187,187,187)" stop-opacity="0.00"/><stop offset="0.182" stop-color="rgb(187,187,187)" stop-opacity="0.30"/><stop offset="0.848" stop-color="rgb(187,187,187)" stop-opacity="0.30"/><stop offset="1.000" stop-color="rgb(187,187,187)" stop-opacity="0.00"/></linearGradient><linearGradient id="f58" gradientUnits="userSpaceOnUse" x1="0" y1="645" x2="0" y2="795"><stop offset="0.000" stop-color="rgb(187,187,187)" stop-opacity="0.00"/><stop offset="0.200" stop-color="rgb(187,187,187)" stop-opacity="0.38"/><stop offset="0.833" stop-color="rgb(187,187,187)" stop-opacity="0.38"/><stop offset="1.000" stop-color="rgb(187,187,187)" stop-opacity="0.00"/></linearGradient><linearGradient id="f59" gradientUnits="userSpaceOnUse" x1="0" y1="645" x2="0" y2="805"><stop offset="0.000" stop-color="rgb(187,187,187)" stop-opacity="0.00"/><stop offset="0.188" stop-color="rgb(187,187,187)" stop-opacity="0.47"/><stop offset="0.844" stop-color="rgb(187,187,187)" stop-opacity="0.47"/><stop offset="1.000" stop-color="rgb(187,187,187)" stop-opacity="0.00"/></linearGradient><linearGradient id="f60" gradientUnits="userSpaceOnUse" x1="0" y1="640" x2="0" y2="805"><stop offset="0.000" stop-color="rgb(187,187,187)" stop-opacity="0.00"/><stop offset="0.182" stop-color="rgb(187,187,187)" stop-opacity="0.47"/><stop offset="0.848" stop-color="rgb(187,187,187)" stop-opacity="0.47"/><stop offset="1.000" stop-color="rgb(187,187,187)" stop-opacity="0.00"/></linearGradient><linearGradient id="f61" gradientUnits="userSpaceOnUse" x1="0" y1="645" x2="0" y2="800"><stop offset="0.000" stop-color="rgb(187,187,187)" stop-opacity="0.00"/><stop offset="0.194" stop-color="rgb(187,187,187)" stop-opacity="0.35"/><stop offset="0.839" stop-color="rgb(187,187,187)" stop-opacity="0.35"/><stop offset="1.000" stop-color="rgb(187,187,187)" stop-opacity="0.00"/></linearGradient><linearGradient id="f62" gradientUnits="userSpaceOnUse" x1="0" y1="645" x2="0" y2="800"><stop offset="0.000" stop-color="rgb(187,187,187)" stop-opacity="0.00"/><stop offset="0.194" stop-color="rgb(187,187,187)" stop-opacity="0.40"/><stop offset="0.839" stop-color="rgb(187,187,187)" stop-opacity="0.40"/><stop offset="1.000" stop-color="rgb(187,187,187)" stop-opacity="0.00"/></linearGradient><linearGradient id="f63" gradientUnits="userSpaceOnUse" x1="0" y1="627" x2="0" y2="794"><stop offset="0.000" stop-color="rgb(187,187,187)" stop-opacity="0.00"/><stop offset="0.180" stop-color="rgb(187,187,187)" stop-opacity="0.45"/><stop offset="0.850" stop-color="rgb(187,187,187)" stop-opacity="0.45"/><stop offset="1.000" stop-color="rgb(187,187,187)" stop-opacity="0.00"/></linearGradient><linearGradient id="f64" gradientUnits="userSpaceOnUse" x1="0" y1="625" x2="0" y2="800"><stop offset="0.000" stop-color="rgb(187,187,187)" stop-opacity="0.00"/><stop offset="0.171" stop-color="rgb(187,187,187)" stop-opacity="0.35"/><stop offset="0.857" stop-color="rgb(187,187,187)" stop-opacity="0.35"/><stop offset="1.000" stop-color="rgb(187,187,187)" stop-opacity="0.00"/></linearGradient><linearGradient id="f65" gradientUnits="userSpaceOnUse" x1="0" y1="615" x2="0" y2="805"><stop offset="0.000" stop-color="rgb(187,187,187)" stop-opacity="0.00"/><stop offset="0.158" stop-color="rgb(187,187,187)" stop-opacity="0.45"/><stop offset="0.868" stop-color="rgb(187,187,187)" stop-opacity="0.45"/><stop offset="1.000" stop-color="rgb(187,187,187)" stop-opacity="0.00"/></linearGradient><linearGradient id="f66" gradientUnits="userSpaceOnUse" x1="0" y1="635" x2="0" y2="815"><stop offset="0.000" stop-color="rgb(187,187,187)" stop-opacity="0.00"/><stop offset="0.167" stop-color="rgb(187,187,187)" stop-opacity="0.45"/><stop offset="0.861" stop-color="rgb(187,187,187)" stop-opacity="0.45"/><stop offset="1.000" stop-color="rgb(187,187,187)" stop-opacity="0.00"/></linearGradient><linearGradient id="f67" gradientUnits="userSpaceOnUse" x1="0" y1="618" x2="0" y2="810"><stop offset="0.000" stop-color="rgb(187,187,187)" stop-opacity="0.00"/><stop offset="0.156" stop-color="rgb(187,187,187)" stop-opacity="0.45"/><stop offset="0.870" stop-color="rgb(187,187,187)" stop-opacity="0.45"/><stop offset="1.000" stop-color="rgb(187,187,187)" stop-opacity="0.00"/></linearGradient><linearGradient id="f68" gradientUnits="userSpaceOnUse" x1="0" y1="625" x2="0" y2="815"><stop offset="0.000" stop-color="rgb(187,187,187)" stop-opacity="0.00"/><stop offset="0.158" stop-color="rgb(187,187,187)" stop-opacity="0.45"/><stop offset="0.868" stop-color="rgb(187,187,187)" stop-opacity="0.45"/><stop offset="1.000" stop-color="rgb(187,187,187)" stop-opacity="0.00"/></linearGradient><linearGradient id="f69" gradientUnits="userSpaceOnUse" x1="0" y1="615" x2="0" y2="825"><stop offset="0.000" stop-color="rgb(187,187,187)" stop-opacity="0.00"/><stop offset="0.143" stop-color="rgb(187,187,187)" stop-opacity="0.47"/><stop offset="0.881" stop-color="rgb(187,187,187)" stop-opacity="0.47"/><stop offset="1.000" stop-color="rgb(187,187,187)" stop-opacity="0.00"/></linearGradient><linearGradient id="f70" gradientUnits="userSpaceOnUse" x1="0" y1="785" x2="0" y2="850"><stop offset="0.000" stop-color="rgb(158,158,158)" stop-opacity="0.00"/><stop offset="0.154" stop-color="rgb(158,158,158)" stop-opacity="0.80"/><stop offset="0.538" stop-color="rgb(158,158,158)" stop-opacity="0.60"/><stop offset="1.000" stop-color="rgb(158,158,158)" stop-opacity="0.00"/></linearGradient><linearGradient id="f71" gradientUnits="userSpaceOnUse" x1="0" y1="795" x2="0" y2="860"><stop offset="0.000" stop-color="rgb(158,158,158)" stop-opacity="0.00"/><stop offset="0.154" stop-color="rgb(158,158,158)" stop-opacity="0.80"/><stop offset="0.538" stop-color="rgb(158,158,158)" stop-opacity="0.60"/><stop offset="1.000" stop-color="rgb(158,158,158)" stop-opacity="0.00"/></linearGradient><linearGradient id="f72" gradientUnits="userSpaceOnUse" x1="0" y1="790" x2="0" y2="855"><stop offset="0.000" stop-color="rgb(158,158,158)" stop-opacity="0.00"/><stop offset="0.154" stop-color="rgb(158,158,158)" stop-opacity="0.80"/><stop offset="0.538" stop-color="rgb(158,158,158)" stop-opacity="0.60"/><stop offset="1.000" stop-color="rgb(158,158,158)" stop-opacity="0.00"/></linearGradient><linearGradient id="f73" gradientUnits="userSpaceOnUse" x1="0" y1="790" x2="0" y2="855"><stop offset="0.000" stop-color="rgb(158,158,158)" stop-opacity="0.00"/><stop offset="0.154" stop-color="rgb(158,158,158)" stop-opacity="0.80"/><stop offset="0.538" stop-color="rgb(158,158,158)" stop-opacity="0.60"/><stop offset="1.000" stop-color="rgb(158,158,158)" stop-opacity="0.00"/></linearGradient><linearGradient id="f74" gradientUnits="userSpaceOnUse" x1="0" y1="790" x2="0" y2="855"><stop offset="0.000" stop-color="rgb(158,158,158)" stop-opacity="0.00"/><stop offset="0.154" stop-color="rgb(158,158,158)" stop-opacity="0.80"/><stop offset="0.538" stop-color="rgb(158,158,158)" stop-opacity="0.60"/><stop offset="1.000" stop-color="rgb(158,158,158)" stop-opacity="0.00"/></linearGradient><linearGradient id="f75" gradientUnits="userSpaceOnUse" x1="0" y1="800" x2="0" y2="865"><stop offset="0.000" stop-color="rgb(158,158,158)" stop-opacity="0.00"/><stop offset="0.154" stop-color="rgb(158,158,158)" stop-opacity="0.80"/><stop offset="0.538" stop-color="rgb(158,158,158)" stop-opacity="0.60"/><stop offset="1.000" stop-color="rgb(158,158,158)" stop-opacity="0.00"/></linearGradient><linearGradient id="f76" gradientUnits="userSpaceOnUse" x1="0" y1="770" x2="0" y2="835"><stop offset="0.000" stop-color="rgb(158,158,158)" stop-opacity="0.00"/><stop offset="0.154" stop-color="rgb(158,158,158)" stop-opacity="0.80"/><stop offset="0.538" stop-color="rgb(158,158,158)" stop-opacity="0.60"/><stop offset="1.000" stop-color="rgb(158,158,158)" stop-opacity="0.00"/></linearGradient><linearGradient id="f77" gradientUnits="userSpaceOnUse" x1="0" y1="800" x2="0" y2="865"><stop offset="0.000" stop-color="rgb(158,158,158)" stop-opacity="0.00"/><stop offset="0.154" stop-color="rgb(158,158,158)" stop-opacity="0.80"/><stop offset="0.538" stop-color="rgb(158,158,158)" stop-opacity="0.60"/><stop offset="1.000" stop-color="rgb(158,158,158)" stop-opacity="0.00"/></linearGradient><linearGradient id="f78" gradientUnits="userSpaceOnUse" x1="0" y1="770" x2="0" y2="835"><stop offset="0.000" stop-color="rgb(158,158,158)" stop-opacity="0.00"/><stop offset="0.154" stop-color="rgb(158,158,158)" stop-opacity="0.80"/><stop offset="0.538" stop-color="rgb(158,158,158)" stop-opacity="0.60"/><stop offset="1.000" stop-color="rgb(158,158,158)" stop-opacity="0.00"/></linearGradient><linearGradient id="f79" gradientUnits="userSpaceOnUse" x1="0" y1="775" x2="0" y2="840"><stop offset="0.000" stop-color="rgb(158,158,158)" stop-opacity="0.00"/><stop offset="0.154" stop-color="rgb(158,158,158)" stop-opacity="0.80"/><stop offset="0.538" stop-color="rgb(158,158,158)" stop-opacity="0.60"/><stop offset="1.000" stop-color="rgb(158,158,158)" stop-opacity="0.00"/></linearGradient><linearGradient id="f80" gradientUnits="userSpaceOnUse" x1="0" y1="785" x2="0" y2="850"><stop offset="0.000" stop-color="rgb(158,158,158)" stop-opacity="0.00"/><stop offset="0.154" stop-color="rgb(158,158,158)" stop-opacity="0.80"/><stop offset="0.538" stop-color="rgb(158,158,158)" stop-opacity="0.60"/><stop offset="1.000" stop-color="rgb(158,158,158)" stop-opacity="0.00"/></linearGradient><linearGradient id="f81" gradientUnits="userSpaceOnUse" x1="0" y1="785" x2="0" y2="850"><stop offset="0.000" stop-color="rgb(158,158,158)" stop-opacity="0.00"/><stop offset="0.154" stop-color="rgb(158,158,158)" stop-opacity="0.80"/><stop offset="0.538" stop-color="rgb(158,158,158)" stop-opacity="0.60"/><stop offset="1.000" stop-color="rgb(158,158,158)" stop-opacity="0.00"/></linearGradient><linearGradient id="f82" gradientUnits="userSpaceOnUse" x1="0" y1="780" x2="0" y2="845"><stop offset="0.000" stop-color="rgb(158,158,158)" stop-opacity="0.00"/><stop offset="0.154" stop-color="rgb(158,158,158)" stop-opacity="0.80"/><stop offset="0.538" stop-color="rgb(158,158,158)" stop-opacity="0.60"/><stop offset="1.000" stop-color="rgb(158,158,158)" stop-opacity="0.00"/></linearGradient><linearGradient id="f83" gradientUnits="userSpaceOnUse" x1="0" y1="780" x2="0" y2="845"><stop offset="0.000" stop-color="rgb(158,158,158)" stop-opacity="0.00"/><stop offset="0.154" stop-color="rgb(158,158,158)" stop-opacity="0.80"/><stop offset="0.538" stop-color="rgb(158,158,158)" stop-opacity="0.60"/><stop offset="1.000" stop-color="rgb(158,158,158)" stop-opacity="0.00"/></linearGradient><linearGradient id="f84" gradientUnits="userSpaceOnUse" x1="0" y1="774" x2="0" y2="839"><stop offset="0.000" stop-color="rgb(158,158,158)" stop-opacity="0.00"/><stop offset="0.154" stop-color="rgb(158,158,158)" stop-opacity="0.80"/><stop offset="0.538" stop-color="rgb(158,158,158)" stop-opacity="0.60"/><stop offset="1.000" stop-color="rgb(158,158,158)" stop-opacity="0.00"/></linearGradient><linearGradient id="f85" gradientUnits="userSpaceOnUse" x1="0" y1="780" x2="0" y2="845"><stop offset="0.000" stop-color="rgb(158,158,158)" stop-opacity="0.00"/><stop offset="0.154" stop-color="rgb(158,158,158)" stop-opacity="0.80"/><stop offset="0.538" stop-color="rgb(158,158,158)" stop-opacity="0.60"/><stop offset="1.000" stop-color="rgb(158,158,158)" stop-opacity="0.00"/></linearGradient><linearGradient id="f86" gradientUnits="userSpaceOnUse" x1="0" y1="785" x2="0" y2="850"><stop offset="0.000" stop-color="rgb(158,158,158)" stop-opacity="0.00"/><stop offset="0.154" stop-color="rgb(158,158,158)" stop-opacity="0.80"/><stop offset="0.538" stop-color="rgb(158,158,158)" stop-opacity="0.60"/><stop offset="1.000" stop-color="rgb(158,158,158)" stop-opacity="0.00"/></linearGradient><linearGradient id="f87" gradientUnits="userSpaceOnUse" x1="0" y1="795" x2="0" y2="860"><stop offset="0.000" stop-color="rgb(158,158,158)" stop-opacity="0.00"/><stop offset="0.154" stop-color="rgb(158,158,158)" stop-opacity="0.80"/><stop offset="0.538" stop-color="rgb(158,158,158)" stop-opacity="0.60"/><stop offset="1.000" stop-color="rgb(158,158,158)" stop-opacity="0.00"/></linearGradient><linearGradient id="f88" gradientUnits="userSpaceOnUse" x1="0" y1="790" x2="0" y2="855"><stop offset="0.000" stop-color="rgb(158,158,158)" stop-opacity="0.00"/><stop offset="0.154" stop-color="rgb(158,158,158)" stop-opacity="0.80"/><stop offset="0.538" stop-color="rgb(158,158,158)" stop-opacity="0.60"/><stop offset="1.000" stop-color="rgb(158,158,158)" stop-opacity="0.00"/></linearGradient><linearGradient id="f89" gradientUnits="userSpaceOnUse" x1="0" y1="795" x2="0" y2="860"><stop offset="0.000" stop-color="rgb(158,158,158)" stop-opacity="0.00"/><stop offset="0.154" stop-color="rgb(158,158,158)" stop-opacity="0.80"/><stop offset="0.538" stop-color="rgb(158,158,158)" stop-opacity="0.60"/><stop offset="1.000" stop-color="rgb(158,158,158)" stop-opacity="0.00"/></linearGradient><linearGradient id="f90" gradientUnits="userSpaceOnUse" x1="0" y1="805" x2="0" y2="870"><stop offset="0.000" stop-color="rgb(158,158,158)" stop-opacity="0.00"/><stop offset="0.154" stop-color="rgb(158,158,158)" stop-opacity="0.80"/><stop offset="0.538" stop-color="rgb(158,158,158)" stop-opacity="0.60"/><stop offset="1.000" stop-color="rgb(158,158,158)" stop-opacity="0.00"/></linearGradient><linearGradient id="f91" gradientUnits="userSpaceOnUse" x1="0" y1="695" x2="0" y2="800"><stop offset="0.000" stop-color="rgb(214,214,214)" stop-opacity="0.00"/><stop offset="0.286" stop-color="rgb(214,214,214)" stop-opacity="0.90"/><stop offset="0.762" stop-color="rgb(214,214,214)" stop-opacity="0.90"/><stop offset="1.000" stop-color="rgb(214,214,214)" stop-opacity="0.00"/></linearGradient><linearGradient id="f92" gradientUnits="userSpaceOnUse" x1="0" y1="715" x2="0" y2="810"><stop offset="0.000" stop-color="rgb(204,204,204)" stop-opacity="0.00"/><stop offset="0.316" stop-color="rgb(204,204,204)" stop-opacity="0.70"/><stop offset="0.737" stop-color="rgb(204,204,204)" stop-opacity="0.70"/><stop offset="1.000" stop-color="rgb(204,204,204)" stop-opacity="0.00"/></linearGradient><linearGradient id="f93" gradientUnits="userSpaceOnUse" x1="0" y1="635" x2="0" y2="805"><stop offset="0.000" stop-color="rgb(214,214,214)" stop-opacity="0.00"/><stop offset="0.176" stop-color="rgb(214,214,214)" stop-opacity="0.90"/><stop offset="0.853" stop-color="rgb(214,214,214)" stop-opacity="0.90"/><stop offset="1.000" stop-color="rgb(214,214,214)" stop-opacity="0.00"/></linearGradient><linearGradient id="f94" gradientUnits="userSpaceOnUse" x1="0" y1="665" x2="0" y2="805"><stop offset="0.000" stop-color="rgb(209,209,209)" stop-opacity="0.00"/><stop offset="0.214" stop-color="rgb(209,209,209)" stop-opacity="0.80"/><stop offset="0.821" stop-color="rgb(209,209,209)" stop-opacity="0.80"/><stop offset="1.000" stop-color="rgb(209,209,209)" stop-opacity="0.00"/></linearGradient><linearGradient id="f95" gradientUnits="userSpaceOnUse" x1="0" y1="695" x2="0" y2="805"><stop offset="0.000" stop-color="rgb(199,199,199)" stop-opacity="0.00"/><stop offset="0.273" stop-color="rgb(199,199,199)" stop-opacity="0.60"/><stop offset="0.773" stop-color="rgb(199,199,199)" stop-opacity="0.60"/><stop offset="1.000" stop-color="rgb(199,199,199)" stop-opacity="0.00"/></linearGradient><linearGradient id="f96" gradientUnits="userSpaceOnUse" x1="0" y1="635" x2="0" y2="815"><stop offset="0.000" stop-color="rgb(209,209,209)" stop-opacity="0.00"/><stop offset="0.167" stop-color="rgb(209,209,209)" stop-opacity="0.85"/><stop offset="0.861" stop-color="rgb(209,209,209)" stop-opacity="0.85"/><stop offset="1.000" stop-color="rgb(209,209,209)" stop-opacity="0.00"/></linearGradient><linearGradient id="f97" gradientUnits="userSpaceOnUse" x1="0" y1="605" x2="0" y2="785"><stop offset="0.000" stop-color="rgb(199,199,199)" stop-opacity="0.00"/><stop offset="0.167" stop-color="rgb(199,199,199)" stop-opacity="0.60"/><stop offset="0.861" stop-color="rgb(199,199,199)" stop-opacity="0.60"/><stop offset="1.000" stop-color="rgb(199,199,199)" stop-opacity="0.00"/></linearGradient><linearGradient id="f98" gradientUnits="userSpaceOnUse" x1="0" y1="615" x2="0" y2="815"><stop offset="0.000" stop-color="rgb(209,209,209)" stop-opacity="0.00"/><stop offset="0.150" stop-color="rgb(209,209,209)" stop-opacity="0.80"/><stop offset="0.875" stop-color="rgb(209,209,209)" stop-opacity="0.80"/><stop offset="1.000" stop-color="rgb(209,209,209)" stop-opacity="0.00"/></linearGradient><linearGradient id="f99" gradientUnits="userSpaceOnUse" x1="0" y1="635" x2="0" y2="785"><stop offset="0.000" stop-color="rgb(199,199,199)" stop-opacity="0.00"/><stop offset="0.200" stop-color="rgb(199,199,199)" stop-opacity="0.60"/><stop offset="0.833" stop-color="rgb(199,199,199)" stop-opacity="0.60"/><stop offset="1.000" stop-color="rgb(199,199,199)" stop-opacity="0.00"/></linearGradient><linearGradient id="f100" gradientUnits="userSpaceOnUse" x1="0" y1="655" x2="0" y2="790"><stop offset="0.000" stop-color="rgb(209,209,209)" stop-opacity="0.00"/><stop offset="0.222" stop-color="rgb(209,209,209)" stop-opacity="0.75"/><stop offset="0.815" stop-color="rgb(209,209,209)" stop-opacity="0.75"/><stop offset="1.000" stop-color="rgb(209,209,209)" stop-opacity="0.00"/></linearGradient><linearGradient id="f101" gradientUnits="userSpaceOnUse" x1="0" y1="655" x2="0" y2="800"><stop offset="0.000" stop-color="rgb(219,219,219)" stop-opacity="0.00"/><stop offset="0.207" stop-color="rgb(219,219,219)" stop-opacity="0.95"/><stop offset="0.828" stop-color="rgb(219,219,219)" stop-opacity="0.95"/><stop offset="1.000" stop-color="rgb(219,219,219)" stop-opacity="0.00"/></linearGradient><linearGradient id="f102" gradientUnits="userSpaceOnUse" x1="0" y1="650" x2="0" y2="800"><stop offset="0.000" stop-color="rgb(219,219,219)" stop-opacity="0.00"/><stop offset="0.200" stop-color="rgb(219,219,219)" stop-opacity="0.95"/><stop offset="0.833" stop-color="rgb(219,219,219)" stop-opacity="0.95"/><stop offset="1.000" stop-color="rgb(219,219,219)" stop-opacity="0.00"/></linearGradient><linearGradient id="f103" gradientUnits="userSpaceOnUse" x1="0" y1="655" x2="0" y2="795"><stop offset="0.000" stop-color="rgb(204,204,204)" stop-opacity="0.00"/><stop offset="0.214" stop-color="rgb(204,204,204)" stop-opacity="0.70"/><stop offset="0.821" stop-color="rgb(204,204,204)" stop-opacity="0.70"/><stop offset="1.000" stop-color="rgb(204,204,204)" stop-opacity="0.00"/></linearGradient><linearGradient id="f104" gradientUnits="userSpaceOnUse" x1="0" y1="655" x2="0" y2="795"><stop offset="0.000" stop-color="rgb(209,209,209)" stop-opacity="0.00"/><stop offset="0.214" stop-color="rgb(209,209,209)" stop-opacity="0.80"/><stop offset="0.821" stop-color="rgb(209,209,209)" stop-opacity="0.80"/><stop offset="1.000" stop-color="rgb(209,209,209)" stop-opacity="0.00"/></linearGradient><linearGradient id="f105" gradientUnits="userSpaceOnUse" x1="0" y1="637" x2="0" y2="789"><stop offset="0.000" stop-color="rgb(214,214,214)" stop-opacity="0.00"/><stop offset="0.197" stop-color="rgb(214,214,214)" stop-opacity="0.90"/><stop offset="0.836" stop-color="rgb(214,214,214)" stop-opacity="0.90"/><stop offset="1.000" stop-color="rgb(214,214,214)" stop-opacity="0.00"/></linearGradient><linearGradient id="f106" gradientUnits="userSpaceOnUse" x1="0" y1="635" x2="0" y2="795"><stop offset="0.000" stop-color="rgb(204,204,204)" stop-opacity="0.00"/><stop offset="0.188" stop-color="rgb(204,204,204)" stop-opacity="0.70"/><stop offset="0.844" stop-color="rgb(204,204,204)" stop-opacity="0.70"/><stop offset="1.000" stop-color="rgb(204,204,204)" stop-opacity="0.00"/></linearGradient><linearGradient id="f107" gradientUnits="userSpaceOnUse" x1="0" y1="625" x2="0" y2="800"><stop offset="0.000" stop-color="rgb(214,214,214)" stop-opacity="0.00"/><stop offset="0.171" stop-color="rgb(214,214,214)" stop-opacity="0.90"/><stop offset="0.857" stop-color="rgb(214,214,214)" stop-opacity="0.90"/><stop offset="1.000" stop-color="rgb(214,214,214)" stop-opacity="0.00"/></linearGradient><linearGradient id="f108" gradientUnits="userSpaceOnUse" x1="0" y1="645" x2="0" y2="810"><stop offset="0.000" stop-color="rgb(214,214,214)" stop-opacity="0.00"/><stop offset="0.182" stop-color="rgb(214,214,214)" stop-opacity="0.90"/><stop offset="0.848" stop-color="rgb(214,214,214)" stop-opacity="0.90"/><stop offset="1.000" stop-color="rgb(214,214,214)" stop-opacity="0.00"/></linearGradient><linearGradient id="f109" gradientUnits="userSpaceOnUse" x1="0" y1="628" x2="0" y2="805"><stop offset="0.000" stop-color="rgb(219,219,219)" stop-opacity="0.00"/><stop offset="0.169" stop-color="rgb(219,219,219)" stop-opacity="0.90"/><stop offset="0.859" stop-color="rgb(219,219,219)" stop-opacity="0.90"/><stop offset="1.000" stop-color="rgb(219,219,219)" stop-opacity="0.00"/></linearGradient><linearGradient id="f110" gradientUnits="userSpaceOnUse" x1="0" y1="635" x2="0" y2="810"><stop offset="0.000" stop-color="rgb(214,214,214)" stop-opacity="0.00"/><stop offset="0.171" stop-color="rgb(214,214,214)" stop-opacity="0.90"/><stop offset="0.857" stop-color="rgb(214,214,214)" stop-opacity="0.90"/><stop offset="1.000" stop-color="rgb(214,214,214)" stop-opacity="0.00"/></linearGradient><linearGradient id="f111" gradientUnits="userSpaceOnUse" x1="0" y1="625" x2="0" y2="820"><stop offset="0.000" stop-color="rgb(219,219,219)" stop-opacity="0.00"/><stop offset="0.154" stop-color="rgb(219,219,219)" stop-opacity="0.95"/><stop offset="0.872" stop-color="rgb(219,219,219)" stop-opacity="0.95"/><stop offset="1.000" stop-color="rgb(219,219,219)" stop-opacity="0.00"/></linearGradient><linearGradient id="f112" gradientUnits="userSpaceOnUse" x1="0" y1="163" x2="0" y2="800"><stop offset="0.000" stop-color="rgb(189,189,189)" stop-opacity="0.50"/><stop offset="0.529" stop-color="rgb(189,189,189)" stop-opacity="0.65"/><stop offset="0.937" stop-color="rgb(189,189,189)" stop-opacity="0.80"/><stop offset="1.000" stop-color="rgb(189,189,189)" stop-opacity="0.20"/></linearGradient><linearGradient id="f113" gradientUnits="userSpaceOnUse" x1="0" y1="163" x2="0" y2="800"><stop offset="0.000" stop-color="rgb(189,189,189)" stop-opacity="0.50"/><stop offset="0.529" stop-color="rgb(189,189,189)" stop-opacity="0.65"/><stop offset="0.937" stop-color="rgb(189,189,189)" stop-opacity="0.80"/><stop offset="1.000" stop-color="rgb(189,189,189)" stop-opacity="0.20"/></linearGradient><linearGradient id="f114" gradientUnits="userSpaceOnUse" x1="0" y1="163" x2="0" y2="800"><stop offset="0.000" stop-color="rgb(189,189,189)" stop-opacity="0.50"/><stop offset="0.529" stop-color="rgb(189,189,189)" stop-opacity="0.65"/><stop offset="0.937" stop-color="rgb(189,189,189)" stop-opacity="0.80"/><stop offset="1.000" stop-color="rgb(189,189,189)" stop-opacity="0.20"/></linearGradient><linearGradient id="f115" gradientUnits="userSpaceOnUse" x1="0" y1="163" x2="0" y2="800"><stop offset="0.000" stop-color="rgb(189,189,189)" stop-opacity="0.50"/><stop offset="0.529" stop-color="rgb(189,189,189)" stop-opacity="0.65"/><stop offset="0.937" stop-color="rgb(189,189,189)" stop-opacity="0.80"/><stop offset="1.000" stop-color="rgb(189,189,189)" stop-opacity="0.20"/></linearGradient><linearGradient id="f116" gradientUnits="userSpaceOnUse" x1="0" y1="163" x2="0" y2="800"><stop offset="0.000" stop-color="rgb(189,189,189)" stop-opacity="0.50"/><stop offset="0.529" stop-color="rgb(189,189,189)" stop-opacity="0.65"/><stop offset="0.937" stop-color="rgb(189,189,189)" stop-opacity="0.80"/><stop offset="1.000" stop-color="rgb(189,189,189)" stop-opacity="0.20"/></linearGradient><linearGradient id="f117" gradientUnits="userSpaceOnUse" x1="0" y1="163" x2="0" y2="800"><stop offset="0.000" stop-color="rgb(189,189,189)" stop-opacity="0.50"/><stop offset="0.529" stop-color="rgb(189,189,189)" stop-opacity="0.65"/><stop offset="0.937" stop-color="rgb(189,189,189)" stop-opacity="0.80"/><stop offset="1.000" stop-color="rgb(189,189,189)" stop-opacity="0.20"/></linearGradient><linearGradient id="f118" gradientUnits="userSpaceOnUse" x1="0" y1="163" x2="0" y2="805"><stop offset="0.000" stop-color="rgb(219,219,219)" stop-opacity="1.00"/><stop offset="0.945" stop-color="rgb(219,219,219)" stop-opacity="1.00"/><stop offset="1.000" stop-color="rgb(219,219,219)" stop-opacity="0.10"/></linearGradient><linearGradient id="f119" gradientUnits="userSpaceOnUse" x1="0" y1="163" x2="0" y2="805"><stop offset="0.000" stop-color="rgb(219,219,219)" stop-opacity="1.00"/><stop offset="0.945" stop-color="rgb(219,219,219)" stop-opacity="1.00"/><stop offset="1.000" stop-color="rgb(219,219,219)" stop-opacity="0.10"/></linearGradient><linearGradient id="f120" gradientUnits="userSpaceOnUse" x1="0" y1="163" x2="0" y2="805"><stop offset="0.000" stop-color="rgb(219,219,219)" stop-opacity="1.00"/><stop offset="0.945" stop-color="rgb(219,219,219)" stop-opacity="1.00"/><stop offset="1.000" stop-color="rgb(219,219,219)" stop-opacity="0.10"/></linearGradient><linearGradient id="f121" gradientUnits="userSpaceOnUse" x1="0" y1="163" x2="0" y2="805"><stop offset="0.000" stop-color="rgb(219,219,219)" stop-opacity="1.00"/><stop offset="0.945" stop-color="rgb(219,219,219)" stop-opacity="1.00"/><stop offset="1.000" stop-color="rgb(219,219,219)" stop-opacity="0.10"/></linearGradient><linearGradient id="f122" gradientUnits="userSpaceOnUse" x1="0" y1="163" x2="0" y2="805"><stop offset="0.000" stop-color="rgb(219,219,219)" stop-opacity="1.00"/><stop offset="0.945" stop-color="rgb(219,219,219)" stop-opacity="1.00"/><stop offset="1.000" stop-color="rgb(219,219,219)" stop-opacity="0.10"/></linearGradient><linearGradient id="f123" gradientUnits="userSpaceOnUse" x1="0" y1="163" x2="0" y2="805"><stop offset="0.000" stop-color="rgb(219,219,219)" stop-opacity="1.00"/><stop offset="0.945" stop-color="rgb(219,219,219)" stop-opacity="1.00"/><stop offset="1.000" stop-color="rgb(219,219,219)" stop-opacity="0.10"/></linearGradient><linearGradient id="f124" gradientUnits="userSpaceOnUse" x1="0" y1="163" x2="0" y2="805"><stop offset="0.000" stop-color="rgb(242,242,242)" stop-opacity="1.00"/><stop offset="0.945" stop-color="rgb(242,242,242)" stop-opacity="1.00"/><stop offset="1.000" stop-color="rgb(242,242,242)" stop-opacity="0.10"/></linearGradient><linearGradient id="f125" gradientUnits="userSpaceOnUse" x1="0" y1="163" x2="0" y2="805"><stop offset="0.000" stop-color="rgb(242,242,242)" stop-opacity="1.00"/><stop offset="0.945" stop-color="rgb(242,242,242)" stop-opacity="1.00"/><stop offset="1.000" stop-color="rgb(242,242,242)" stop-opacity="0.10"/></linearGradient><linearGradient id="f126" gradientUnits="userSpaceOnUse" x1="0" y1="163" x2="0" y2="805"><stop offset="0.000" stop-color="rgb(242,242,242)" stop-opacity="1.00"/><stop offset="0.945" stop-color="rgb(242,242,242)" stop-opacity="1.00"/><stop offset="1.000" stop-color="rgb(242,242,242)" stop-opacity="0.10"/></linearGradient><linearGradient id="f127" gradientUnits="userSpaceOnUse" x1="0" y1="163" x2="0" y2="805"><stop offset="0.000" stop-color="rgb(242,242,242)" stop-opacity="1.00"/><stop offset="0.945" stop-color="rgb(242,242,242)" stop-opacity="1.00"/><stop offset="1.000" stop-color="rgb(242,242,242)" stop-opacity="0.10"/></linearGradient><linearGradient id="f128" gradientUnits="userSpaceOnUse" x1="0" y1="163" x2="0" y2="805"><stop offset="0.000" stop-color="rgb(242,242,242)" stop-opacity="1.00"/><stop offset="0.945" stop-color="rgb(242,242,242)" stop-opacity="1.00"/><stop offset="1.000" stop-color="rgb(242,242,242)" stop-opacity="0.10"/></linearGradient><linearGradient id="f129" gradientUnits="userSpaceOnUse" x1="0" y1="163" x2="0" y2="805"><stop offset="0.000" stop-color="rgb(242,242,242)" stop-opacity="1.00"/><stop offset="0.945" stop-color="rgb(242,242,242)" stop-opacity="1.00"/><stop offset="1.000" stop-color="rgb(242,242,242)" stop-opacity="0.10"/></linearGradient></defs>
<g filter="url(#jet)">
<rect x="375" y="163" width="2231" height="735" fill="url(#bg)"/>
<g filter="url(#b3)">
<rect x="300" y="610" width="400" height="220" fill="rgb(182,182,182)" fill-opacity="0.45"/>
<rect x="2000" y="80" width="700" height="440" fill="rgb(149,149,149)" fill-opacity="0.55"/>
<rect x="1230" y="80" width="470" height="210" fill="rgb(147,147,147)" fill-opacity="0.40"/>
</g>
<g filter="url(#bh)">
<rect x="375" y="449.5" width="2231" height="5" fill="rgb(194,194,194)" fill-opacity="0.80"/>
<rect x="375" y="724.5" width="2231" height="9" fill="rgb(194,194,194)" fill-opacity="0.55"/>
<rect x="375" y="505.0" width="2231" height="6" fill="rgb(178,178,178)" fill-opacity="0.25"/>
<rect x="375" y="592.0" width="2231" height="6" fill="rgb(178,178,178)" fill-opacity="0.20"/>
<rect x="375" y="616.5" width="2231" height="5" fill="rgb(181,181,181)" fill-opacity="0.20"/>
<rect x="375" y="674.5" width="2231" height="5" fill="rgb(181,181,181)" fill-opacity="0.15"/>
</g>
<g filter="url(#b2)">
<ellipse cx="1871" cy="381" rx="8" ry="24" fill="rgb(190,190,190)" fill-opacity="0.60"/>
<ellipse cx="1896" cy="388" rx="7" ry="20" fill="rgb(190,190,190)" fill-opacity="0.55"/>
<ellipse cx="1871" cy="506" rx="6" ry="10" fill="rgb(189,189,189)" fill-opacity="0.45"/>
<ellipse cx="1858" cy="470" rx="6" ry="30" fill="rgb(186,186,186)" fill-opacity="0.40"/>
<ellipse cx="1910" cy="330" rx="6" ry="25" fill="rgb(186,186,186)" fill-opacity="0.40"/>
<ellipse cx="1884" cy="430" rx="14" ry="70" fill="rgb(184,184,184)" fill-opacity="0.35"/>
</g>
<g filter="url(#b2)">
<path d="M446.0 185 L446.0 800" stroke="url(#f1)" stroke-width="6.3" fill="none"/>
<path d="M481.0 165 L476.0 390" stroke="url(#f2)" stroke-width="6.3" fill="none"/>
<path d="M535.0 165 L535.0 640" stroke="url(#f3)" stroke-width="7.2" fill="none"/>
<path d="M604.0 354 L604.0 700" stroke="url(#f4)" stroke-width="5.4" fill="none"/>
<path d="M687.0 185 L683.0 700" stroke="url(#f5)" stroke-width="18.0" fill="none"/>
<path d="M822.0 305 L822.0 610" stroke="url(#f6)" stroke-width="10.8" fill="none"/>
<path d="M914.0 320 L914.0 600" stroke="url(#f7)" stroke-width="7.2" fill="none"/>
<path d="M947.0 340 L947.0 650" stroke="url(#f8)" stroke-width="10.8" fill="none"/>
<path d="M994.0 400 L994.0 600" stroke="url(#f9)" stroke-width="7.2" fill="none"/>
<path d="M1028.0 290 L1028.0 500" stroke="url(#f10)" stroke-width="7.2" fill="none"/>
<path d="M1115.0 400 L1115.0 650" stroke="url(#f11)" stroke-width="10.8" fill="none"/>
<path d="M1138.0 380 L1138.0 520" stroke="url(#f12)" stroke-width="16.2" fill="none"/>
<path d="M1161.0 235 L1161.0 650" stroke="url(#f13)" stroke-width="12.6" fill="none"/>
<path d="M1111.0 300 L1111.0 611" stroke="url(#f14)" stroke-width="5.4" fill="none"/>
<path d="M1218.0 165 L1218.0 880" stroke="url(#f15)" stroke-width="5.4" fill="none"/>
<path d="M1332.0 360 L1332.0 800" stroke="url(#f16)" stroke-width="7.2" fill="none"/>
<path d="M1439.0 270 L1439.0 600" stroke="url(#f17)" stroke-width="9.0" fill="none"/>
<path d="M1492.0 165 L1492.0 500" stroke="url(#f18)" stroke-width="5.4" fill="none"/>
<path d="M1548.0 175 L1548.0 628" stroke="url(#f19)" stroke-width="10.8" fill="none"/>
<path d="M1782.0 300 L1782.0 700" stroke="url(#f20)" stroke-width="7.2" fill="none"/>
<path d="M1823.0 220 L1823.0 618" stroke="url(#f21)" stroke-width="16.2" fill="none"/>
<path d="M1927.0 165 L1927.0 630" stroke="url(#f22)" stroke-width="21.6" fill="none"/>
<path d="M1948.0 289 L1948.0 606" stroke="url(#f23)" stroke-width="14.4" fill="none"/>
<path d="M1952.0 290 L1952.0 640" stroke="url(#f24)" stroke-width="18.0" fill="none"/>
</g>
<g filter="url(#b1)">
<path d="M446.0 185 L446.0 800" stroke="url(#f25)" stroke-width="2.8" fill="none"/>
<path d="M481.0 165 L476.0 390" stroke="url(#f26)" stroke-width="2.8" fill="none"/>
<path d="M535.0 165 L535.0 640" stroke="url(#f27)" stroke-width="3.2" fill="none"/>
<path d="M604.0 354 L604.0 700" stroke="url(#f28)" stroke-width="2.4" fill="none"/>
<path d="M687.0 185 L683.0 700" stroke="url(#f29)" stroke-width="8.0" fill="none"/>
<path d="M822.0 305 L822.0 610" stroke="url(#f30)" stroke-width="4.8" fill="none"/>
<path d="M914.0 320 L914.0 600" stroke="url(#f31)" stroke-width="3.2" fill="none"/>
<path d="M947.0 340 L947.0 650" stroke="url(#f32)" stroke-width="4.8" fill="none"/>
<path d="M994.0 400 L994.0 600" stroke="url(#f33)" stroke-width="3.2" fill="none"/>
<path d="M1028.0 290 L1028.0 500" stroke="url(#f34)" stroke-width="3.2" fill="none"/>
<path d="M1115.0 400 L1115.0 650" stroke="url(#f35)" stroke-width="4.8" fill="none"/>
<path d="M1138.0 380 L1138.0 520" stroke="url(#f36)" stroke-width="7.2" fill="none"/>
<path d="M1161.0 235 L1161.0 650" stroke="url(#f37)" stroke-width="5.6" fill="none"/>
<path d="M1111.0 300 L1111.0 611" stroke="url(#f38)" stroke-width="2.4" fill="none"/>
<path d="M1218.0 165 L1218.0 880" stroke="url(#f39)" stroke-width="2.4" fill="none"/>
<path d="M1332.0 360 L1332.0 800" stroke="url(#f40)" stroke-width="3.2" fill="none"/>
<path d="M1439.0 270 L1439.0 600" stroke="url(#f41)" stroke-width="4.0" fill="none"/>
<path d="M1492.0 165 L1492.0 500" stroke="url(#f42)" stroke-width="2.4" fill="none"/>
<path d="M1548.0 175 L1548.0 628" stroke="url(#f43)" stroke-width="4.8" fill="none"/>
<path d="M1782.0 300 L1782.0 700" stroke="url(#f44)" stroke-width="3.2" fill="none"/>
<path d="M1823.0 220 L1823.0 618" stroke="url(#f45)" stroke-width="7.2" fill="none"/>
<path d="M1927.0 165 L1927.0 630" stroke="url(#f46)" stroke-width="9.6" fill="none"/>
<path d="M1948.0 289 L1948.0 606" stroke="url(#f47)" stroke-width="6.4" fill="none"/>
<path d="M1952.0 290 L1952.0 640" stroke="url(#f48)" stroke-width="8.0" fill="none"/>
</g>
<g filter="url(#b2)">
<path d="M521 685 V805" stroke="url(#f49)" stroke-width="18" fill="none"/>
<path d="M544 705 V815" stroke="url(#f50)" stroke-width="12" fill="none"/>
<path d="M561 625 V810" stroke="url(#f51)" stroke-width="21" fill="none"/>
<path d="M664 655 V810" stroke="url(#f52)" stroke-width="46" fill="none"/>
<path d="M700 685 V810" stroke="url(#f53)" stroke-width="14" fill="none"/>
<path d="M729 625 V820" stroke="url(#f54)" stroke-width="25" fill="none"/>
<path d="M834 595 V790" stroke="url(#f55)" stroke-width="16" fill="none"/>
<path d="M869 605 V820" stroke="url(#f56)" stroke-width="36" fill="none"/>
<path d="M918 625 V790" stroke="url(#f57)" stroke-width="16" fill="none"/>
<path d="M958 645 V795" stroke="url(#f58)" stroke-width="16" fill="none"/>
<path d="M1118 645 V805" stroke="url(#f59)" stroke-width="21" fill="none"/>
<path d="M1138 640 V805" stroke="url(#f60)" stroke-width="21" fill="none"/>
<path d="M1160 645 V800" stroke="url(#f61)" stroke-width="25" fill="none"/>
<path d="M1178 645 V800" stroke="url(#f62)" stroke-width="21" fill="none"/>
<path d="M1767 627 V794" stroke="url(#f63)" stroke-width="18" fill="none"/>
<path d="M1789 625 V800" stroke="url(#f64)" stroke-width="21" fill="none"/>
<path d="M1809 615 V805" stroke="url(#f65)" stroke-width="36" fill="none"/>
<path d="M1840 635 V815" stroke="url(#f66)" stroke-width="32" fill="none"/>
<path d="M1868 618 V810" stroke="url(#f67)" stroke-width="28" fill="none"/>
<path d="M1900 625 V815" stroke="url(#f68)" stroke-width="39" fill="none"/>
<path d="M1948 615 V825" stroke="url(#f69)" stroke-width="32" fill="none"/>
</g>
<g filter="url(#b1)">
<path d="M521 785 V850" stroke="url(#f70)" stroke-width="5.0" fill="none"/>
<path d="M544 795 V860" stroke="url(#f71)" stroke-width="3.5" fill="none"/>
<path d="M561 790 V855" stroke="url(#f72)" stroke-width="6.0" fill="none"/>
<path d="M664 790 V855" stroke="url(#f73)" stroke-width="13.0" fill="none"/>
<path d="M700 790 V855" stroke="url(#f74)" stroke-width="4.0" fill="none"/>
<path d="M729 800 V865" stroke="url(#f75)" stroke-width="7.0" fill="none"/>
<path d="M834 770 V835" stroke="url(#f76)" stroke-width="4.5" fill="none"/>
<path d="M869 800 V865" stroke="url(#f77)" stroke-width="10.0" fill="none"/>
<path d="M918 770 V835" stroke="url(#f78)" stroke-width="4.5" fill="none"/>
<path d="M958 775 V840" stroke="url(#f79)" stroke-width="4.5" fill="none"/>
<path d="M1118 785 V850" stroke="url(#f80)" stroke-width="6.0" fill="none"/>
<path d="M1138 785 V850" stroke="url(#f81)" stroke-width="6.0" fill="none"/>
<path d="M1160 780 V845" stroke="url(#f82)" stroke-width="7.0" fill="none"/>
<path d="M1178 780 V845" stroke="url(#f83)" stroke-width="6.0" fill="none"/>
<path d="M1767 774 V839" stroke="url(#f84)" stroke-width="5.0" fill="none"/>
<path d="M1789 780 V845" stroke="url(#f85)" stroke-width="6.0" fill="none"/>
<path d="M1809 785 V850" stroke="url(#f86)" stroke-width="10.0" fill="none"/>
<path d="M1840 795 V860" stroke="url(#f87)" stroke-width="9.0" fill="none"/>
<path d="M1868 790 V855" stroke="url(#f88)" stroke-width="8.0" fill="none"/>
<path d="M1900 795 V860" stroke="url(#f89)" stroke-width="11.0" fill="none"/>
<path d="M1948 805 V870" stroke="url(#f90)" stroke-width="9.0" fill="none"/>
</g>
<g filter="url(#bs)">
<path d="M516.0 702.2 L526.0 697.8 M516.0 709.7 L526.0 705.3 M516.0 717.2 L526.0 712.8 M516.0 724.7 L526.0 720.3 M516.0 732.2 L526.0 727.8 M516.0 739.7 L526.0 735.3 M516.0 747.2 L526.0 742.8 M516.0 754.7 L526.0 750.3 M516.0 762.2 L526.0 757.8 M516.0 769.7 L526.0 765.3 M516.0 777.2 L526.0 772.8 M516.0 784.7 L526.0 780.3 M516.0 792.2 L526.0 787.8" stroke="url(#f91)" stroke-width="3.8" fill="none"/>
<path d="M540.5 721.5 L547.5 718.5 M540.5 729.0 L547.5 726.0 M540.5 736.5 L547.5 733.5 M540.5 744.0 L547.5 741.0 M540.5 751.5 L547.5 748.5 M540.5 759.0 L547.5 756.0 M540.5 766.5 L547.5 763.5 M540.5 774.0 L547.5 771.0 M540.5 781.5 L547.5 778.5 M540.5 789.0 L547.5 786.0 M540.5 796.5 L547.5 793.5 M540.5 804.0 L547.5 801.0" stroke="url(#f92)" stroke-width="3.8" fill="none"/>
<path d="M555.0 642.6 L567.0 637.4 M555.0 650.1 L567.0 644.9 M555.0 657.6 L567.0 652.4 M555.0 665.1 L567.0 659.9 M555.0 672.6 L567.0 667.4 M555.0 680.1 L567.0 674.9 M555.0 687.6 L567.0 682.4 M555.0 695.1 L567.0 689.9 M555.0 702.6 L567.0 697.4 M555.0 710.1 L567.0 704.9 M555.0 717.6 L567.0 712.4 M555.0 725.1 L567.0 719.9 M555.0 732.6 L567.0 727.4 M555.0 740.1 L567.0 734.9 M555.0 747.6 L567.0 742.4 M555.0 755.1 L567.0 749.9 M555.0 762.6 L567.0 757.4 M555.0 770.1 L567.0 764.9 M555.0 777.6 L567.0 772.4 M555.0 785.1 L567.0 779.9 M555.0 792.6 L567.0 787.4 M555.0 800.1 L567.0 794.9" stroke="url(#f93)" stroke-width="3.8" fill="none"/>
<path d="M651.0 675.7 L677.0 664.3 M651.0 683.2 L677.0 671.8 M651.0 690.7 L677.0 679.3 M651.0 698.2 L677.0 686.8 M651.0 705.7 L677.0 694.3 M651.0 713.2 L677.0 701.8 M651.0 720.7 L677.0 709.3 M651.0 728.2 L677.0 716.8 M651.0 735.7 L677.0 724.3 M651.0 743.2 L677.0 731.8 M651.0 750.7 L677.0 739.3 M651.0 758.2 L677.0 746.8 M651.0 765.7 L677.0 754.3 M651.0 773.2 L677.0 761.8 M651.0 780.7 L677.0 769.3 M651.0 788.2 L677.0 776.8 M651.0 795.7 L677.0 784.3 M651.0 803.2 L677.0 791.8" stroke="url(#f94)" stroke-width="3.8" fill="none"/>
<path d="M696.0 701.8 L704.0 698.2 M696.0 709.3 L704.0 705.7 M696.0 716.8 L704.0 713.2 M696.0 724.3 L704.0 720.7 M696.0 731.8 L704.0 728.2 M696.0 739.3 L704.0 735.7 M696.0 746.8 L704.0 743.2 M696.0 754.3 L704.0 750.7 M696.0 761.8 L704.0 758.2 M696.0 769.3 L704.0 765.7 M696.0 776.8 L704.0 773.2 M696.0 784.3 L704.0 780.7 M696.0 791.8 L704.0 788.2 M696.0 799.3 L704.0 795.7" stroke="url(#f95)" stroke-width="3.8" fill="none"/>
<path d="M722.0 643.1 L736.0 636.9 M722.0 650.6 L736.0 644.4 M722.0 658.1 L736.0 651.9 M722.0 665.6 L736.0 659.4 M722.0 673.1 L736.0 666.9 M722.0 680.6 L736.0 674.4 M722.0 688.1 L736.0 681.9 M722.0 695.6 L736.0 689.4 M722.0 703.1 L736.0 696.9 M722.0 710.6 L736.0 704.4 M722.0 718.1 L736.0 711.9 M722.0 725.6 L736.0 719.4 M722.0 733.1 L736.0 726.9 M722.0 740.6 L736.0 734.4 M722.0 748.1 L736.0 741.9 M722.0 755.6 L736.0 749.4 M722.0 763.1 L736.0 756.9 M722.0 770.6 L736.0 764.4 M722.0 778.1 L736.0 771.9 M722.0 785.6 L736.0 779.4 M722.0 793.1 L736.0 786.9 M722.0 800.6 L736.0 794.4 M722.0 808.1 L736.0 801.9" stroke="url(#f96)" stroke-width="3.8" fill="none"/>
<path d="M829.5 612.0 L838.5 608.0 M829.5 619.5 L838.5 615.5 M829.5 627.0 L838.5 623.0 M829.5 634.5 L838.5 630.5 M829.5 642.0 L838.5 638.0 M829.5 649.5 L838.5 645.5 M829.5 657.0 L838.5 653.0 M829.5 664.5 L838.5 660.5 M829.5 672.0 L838.5 668.0 M829.5 679.5 L838.5 675.5 M829.5 687.0 L838.5 683.0 M829.5 694.5 L838.5 690.5 M829.5 702.0 L838.5 698.0 M829.5 709.5 L838.5 705.5 M829.5 717.0 L838.5 713.0 M829.5 724.5 L838.5 720.5 M829.5 732.0 L838.5 728.0 M829.5 739.5 L838.5 735.5 M829.5 747.0 L838.5 743.0 M829.5 754.5 L838.5 750.5 M829.5 762.0 L838.5 758.0 M829.5 769.5 L838.5 765.5 M829.5 777.0 L838.5 773.0" stroke="url(#f97)" stroke-width="3.8" fill="none"/>
<path d="M859.0 624.4 L879.0 615.6 M859.0 631.9 L879.0 623.1 M859.0 639.4 L879.0 630.6 M859.0 646.9 L879.0 638.1 M859.0 654.4 L879.0 645.6 M859.0 661.9 L879.0 653.1 M859.0 669.4 L879.0 660.6 M859.0 676.9 L879.0 668.1 M859.0 684.4 L879.0 675.6 M859.0 691.9 L879.0 683.1 M859.0 699.4 L879.0 690.6 M859.0 706.9 L879.0 698.1 M859.0 714.4 L879.0 705.6 M859.0 721.9 L879.0 713.1 M859.0 729.4 L879.0 720.6 M859.0 736.9 L879.0 728.1 M859.0 744.4 L879.0 735.6 M859.0 751.9 L879.0 743.1 M859.0 759.4 L879.0 750.6 M859.0 766.9 L879.0 758.1 M859.0 774.4 L879.0 765.6 M859.0 781.9 L879.0 773.1 M859.0 789.4 L879.0 780.6 M859.0 796.9 L879.0 788.1 M859.0 804.4 L879.0 795.6 M859.0 811.9 L879.0 803.1" stroke="url(#f98)" stroke-width="3.8" fill="none"/>
<path d="M913.5 642.0 L922.5 638.0 M913.5 649.5 L922.5 645.5 M913.5 657.0 L922.5 653.0 M913.5 664.5 L922.5 660.5 M913.5 672.0 L922.5 668.0 M913.5 679.5 L922.5 675.5 M913.5 687.0 L922.5 683.0 M913.5 694.5 L922.5 690.5 M913.5 702.0 L922.5 698.0 M913.5 709.5 L922.5 705.5 M913.5 717.0 L922.5 713.0 M913.5 724.5 L922.5 720.5 M913.5 732.0 L922.5 728.0 M913.5 739.5 L922.5 735.5 M913.5 747.0 L922.5 743.0 M913.5 754.5 L922.5 750.5 M913.5 762.0 L922.5 758.0 M913.5 769.5 L922.5 765.5 M913.5 777.0 L922.5 773.0" stroke="url(#f99)" stroke-width="3.8" fill="none"/>
<path d="M953.5 662.0 L962.5 658.0 M953.5 669.5 L962.5 665.5 M953.5 677.0 L962.5 673.0 M953.5 684.5 L962.5 680.5 M953.5 692.0 L962.5 688.0 M953.5 699.5 L962.5 695.5 M953.5 707.0 L962.5 703.0 M953.5 714.5 L962.5 710.5 M953.5 722.0 L962.5 718.0 M953.5 729.5 L962.5 725.5 M953.5 737.0 L962.5 733.0 M953.5 744.5 L962.5 740.5 M953.5 752.0 L962.5 748.0 M953.5 759.5 L962.5 755.5 M953.5 767.0 L962.5 763.0 M953.5 774.5 L962.5 770.5 M953.5 782.0 L962.5 778.0" stroke="url(#f100)" stroke-width="3.8" fill="none"/>
<path d="M1112.0 662.6 L1124.0 657.4 M1112.0 670.1 L1124.0 664.9 M1112.0 677.6 L1124.0 672.4 M1112.0 685.1 L1124.0 679.9 M1112.0 692.6 L1124.0 687.4 M1112.0 700.1 L1124.0 694.9 M1112.0 707.6 L1124.0 702.4 M1112.0 715.1 L1124.0 709.9 M1112.0 722.6 L1124.0 717.4 M1112.0 730.1 L1124.0 724.9 M1112.0 737.6 L1124.0 732.4 M1112.0 745.1 L1124.0 739.9 M1112.0 752.6 L1124.0 747.4 M1112.0 760.1 L1124.0 754.9 M1112.0 767.6 L1124.0 762.4 M1112.0 775.1 L1124.0 769.9 M1112.0 782.6 L1124.0 777.4 M1112.0 790.1 L1124.0 784.9" stroke="url(#f101)" stroke-width="3.8" fill="none"/>
<path d="M1132.0 657.6 L1144.0 652.4 M1132.0 665.1 L1144.0 659.9 M1132.0 672.6 L1144.0 667.4 M1132.0 680.1 L1144.0 674.9 M1132.0 687.6 L1144.0 682.4 M1132.0 695.1 L1144.0 689.9 M1132.0 702.6 L1144.0 697.4 M1132.0 710.1 L1144.0 704.9 M1132.0 717.6 L1144.0 712.4 M1132.0 725.1 L1144.0 719.9 M1132.0 732.6 L1144.0 727.4 M1132.0 740.1 L1144.0 734.9 M1132.0 747.6 L1144.0 742.4 M1132.0 755.1 L1144.0 749.9 M1132.0 762.6 L1144.0 757.4 M1132.0 770.1 L1144.0 764.9 M1132.0 777.6 L1144.0 772.4 M1132.0 785.1 L1144.0 779.9 M1132.0 792.6 L1144.0 787.4" stroke="url(#f102)" stroke-width="3.8" fill="none"/>
<path d="M1153.0 663.1 L1167.0 656.9 M1153.0 670.6 L1167.0 664.4 M1153.0 678.1 L1167.0 671.9 M1153.0 685.6 L1167.0 679.4 M1153.0 693.1 L1167.0 686.9 M1153.0 700.6 L1167.0 694.4 M1153.0 708.1 L1167.0 701.9 M1153.0 715.6 L1167.0 709.4 M1153.0 723.1 L1167.0 716.9 M1153.0 730.6 L1167.0 724.4 M1153.0 738.1 L1167.0 731.9 M1153.0 745.6 L1167.0 739.4 M1153.0 753.1 L1167.0 746.9 M1153.0 760.6 L1167.0 754.4 M1153.0 768.1 L1167.0 761.9 M1153.0 775.6 L1167.0 769.4 M1153.0 783.1 L1167.0 776.9 M1153.0 790.6 L1167.0 784.4" stroke="url(#f103)" stroke-width="3.8" fill="none"/>
<path d="M1172.0 662.6 L1184.0 657.4 M1172.0 670.1 L1184.0 664.9 M1172.0 677.6 L1184.0 672.4 M1172.0 685.1 L1184.0 679.9 M1172.0 692.6 L1184.0 687.4 M1172.0 700.1 L1184.0 694.9 M1172.0 707.6 L1184.0 702.4 M1172.0 715.1 L1184.0 709.9 M1172.0 722.6 L1184.0 717.4 M1172.0 730.1 L1184.0 724.9 M1172.0 737.6 L1184.0 732.4 M1172.0 745.1 L1184.0 739.9 M1172.0 752.6 L1184.0 747.4 M1172.0 760.1 L1184.0 754.9 M1172.0 767.6 L1184.0 762.4 M1172.0 775.1 L1184.0 769.9 M1172.0 782.6 L1184.0 777.4 M1172.0 790.1 L1184.0 784.9" stroke="url(#f104)" stroke-width="3.8" fill="none"/>
<path d="M1762.0 644.2 L1772.0 639.8 M1762.0 651.7 L1772.0 647.3 M1762.0 659.2 L1772.0 654.8 M1762.0 666.7 L1772.0 662.3 M1762.0 674.2 L1772.0 669.8 M1762.0 681.7 L1772.0 677.3 M1762.0 689.2 L1772.0 684.8 M1762.0 696.7 L1772.0 692.3 M1762.0 704.2 L1772.0 699.8 M1762.0 711.7 L1772.0 707.3 M1762.0 719.2 L1772.0 714.8 M1762.0 726.7 L1772.0 722.3 M1762.0 734.2 L1772.0 729.8 M1762.0 741.7 L1772.0 737.3 M1762.0 749.2 L1772.0 744.8 M1762.0 756.7 L1772.0 752.3 M1762.0 764.2 L1772.0 759.8 M1762.0 771.7 L1772.0 767.3 M1762.0 779.2 L1772.0 774.8" stroke="url(#f105)" stroke-width="3.8" fill="none"/>
<path d="M1783.0 642.6 L1795.0 637.4 M1783.0 650.1 L1795.0 644.9 M1783.0 657.6 L1795.0 652.4 M1783.0 665.1 L1795.0 659.9 M1783.0 672.6 L1795.0 667.4 M1783.0 680.1 L1795.0 674.9 M1783.0 687.6 L1795.0 682.4 M1783.0 695.1 L1795.0 689.9 M1783.0 702.6 L1795.0 697.4 M1783.0 710.1 L1795.0 704.9 M1783.0 717.6 L1795.0 712.4 M1783.0 725.1 L1795.0 719.9 M1783.0 732.6 L1795.0 727.4 M1783.0 740.1 L1795.0 734.9 M1783.0 747.6 L1795.0 742.4 M1783.0 755.1 L1795.0 749.9 M1783.0 762.6 L1795.0 757.4 M1783.0 770.1 L1795.0 764.9 M1783.0 777.6 L1795.0 772.4 M1783.0 785.1 L1795.0 779.9" stroke="url(#f106)" stroke-width="3.8" fill="none"/>
<path d="M1799.0 634.4 L1819.0 625.6 M1799.0 641.9 L1819.0 633.1 M1799.0 649.4 L1819.0 640.6 M1799.0 656.9 L1819.0 648.1 M1799.0 664.4 L1819.0 655.6 M1799.0 671.9 L1819.0 663.1 M1799.0 679.4 L1819.0 670.6 M1799.0 686.9 L1819.0 678.1 M1799.0 694.4 L1819.0 685.6 M1799.0 701.9 L1819.0 693.1 M1799.0 709.4 L1819.0 700.6 M1799.0 716.9 L1819.0 708.1 M1799.0 724.4 L1819.0 715.6 M1799.0 731.9 L1819.0 723.1 M1799.0 739.4 L1819.0 730.6 M1799.0 746.9 L1819.0 738.1 M1799.0 754.4 L1819.0 745.6 M1799.0 761.9 L1819.0 753.1 M1799.0 769.4 L1819.0 760.6 M1799.0 776.9 L1819.0 768.1 M1799.0 784.4 L1819.0 775.6 M1799.0 791.9 L1819.0 783.1" stroke="url(#f107)" stroke-width="3.8" fill="none"/>
<path d="M1831.0 654.0 L1849.0 646.0 M1831.0 661.5 L1849.0 653.5 M1831.0 669.0 L1849.0 661.0 M1831.0 676.5 L1849.0 668.5 M1831.0 684.0 L1849.0 676.0 M1831.0 691.5 L1849.0 683.5 M1831.0 699.0 L1849.0 691.0 M1831.0 706.5 L1849.0 698.5 M1831.0 714.0 L1849.0 706.0 M1831.0 721.5 L1849.0 713.5 M1831.0 729.0 L1849.0 721.0 M1831.0 736.5 L1849.0 728.5 M1831.0 744.0 L1849.0 736.0 M1831.0 751.5 L1849.0 743.5 M1831.0 759.0 L1849.0 751.0 M1831.0 766.5 L1849.0 758.5 M1831.0 774.0 L1849.0 766.0 M1831.0 781.5 L1849.0 773.5 M1831.0 789.0 L1849.0 781.0 M1831.0 796.5 L1849.0 788.5 M1831.0 804.0 L1849.0 796.0" stroke="url(#f108)" stroke-width="3.8" fill="none"/>
<path d="M1860.0 636.5 L1876.0 629.5 M1860.0 644.0 L1876.0 637.0 M1860.0 651.5 L1876.0 644.5 M1860.0 659.0 L1876.0 652.0 M1860.0 666.5 L1876.0 659.5 M1860.0 674.0 L1876.0 667.0 M1860.0 681.5 L1876.0 674.5 M1860.0 689.0 L1876.0 682.0 M1860.0 696.5 L1876.0 689.5 M1860.0 704.0 L1876.0 697.0 M1860.0 711.5 L1876.0 704.5 M1860.0 719.0 L1876.0 712.0 M1860.0 726.5 L1876.0 719.5 M1860.0 734.0 L1876.0 727.0 M1860.0 741.5 L1876.0 734.5 M1860.0 749.0 L1876.0 742.0 M1860.0 756.5 L1876.0 749.5 M1860.0 764.0 L1876.0 757.0 M1860.0 771.5 L1876.0 764.5 M1860.0 779.0 L1876.0 772.0 M1860.0 786.5 L1876.0 779.5 M1860.0 794.0 L1876.0 787.0 M1860.0 801.5 L1876.0 794.5" stroke="url(#f109)" stroke-width="3.8" fill="none"/>
<path d="M1889.0 644.8 L1911.0 635.2 M1889.0 652.3 L1911.0 642.7 M1889.0 659.8 L1911.0 650.2 M1889.0 667.3 L1911.0 657.7 M1889.0 674.8 L1911.0 665.2 M1889.0 682.3 L1911.0 672.7 M1889.0 689.8 L1911.0 680.2 M1889.0 697.3 L1911.0 687.7 M1889.0 704.8 L1911.0 695.2 M1889.0 712.3 L1911.0 702.7 M1889.0 719.8 L1911.0 710.2 M1889.0 727.3 L1911.0 717.7 M1889.0 734.8 L1911.0 725.2 M1889.0 742.3 L1911.0 732.7 M1889.0 749.8 L1911.0 740.2 M1889.0 757.3 L1911.0 747.7 M1889.0 764.8 L1911.0 755.2 M1889.0 772.3 L1911.0 762.7 M1889.0 779.8 L1911.0 770.2 M1889.0 787.3 L1911.0 777.7 M1889.0 794.8 L1911.0 785.2 M1889.0 802.3 L1911.0 792.7" stroke="url(#f110)" stroke-width="3.8" fill="none"/>
<path d="M1939.0 634.0 L1957.0 626.0 M1939.0 641.5 L1957.0 633.5 M1939.0 649.0 L1957.0 641.0 M1939.0 656.5 L1957.0 648.5 M1939.0 664.0 L1957.0 656.0 M1939.0 671.5 L1957.0 663.5 M1939.0 679.0 L1957.0 671.0 M1939.0 686.5 L1957.0 678.5 M1939.0 694.0 L1957.0 686.0 M1939.0 701.5 L1957.0 693.5 M1939.0 709.0 L1957.0 701.0 M1939.0 716.5 L1957.0 708.5 M1939.0 724.0 L1957.0 716.0 M1939.0 731.5 L1957.0 723.5 M1939.0 739.0 L1957.0 731.0 M1939.0 746.5 L1957.0 738.5 M1939.0 754.0 L1957.0 746.0 M1939.0 761.5 L1957.0 753.5 M1939.0 769.0 L1957.0 761.0 M1939.0 776.5 L1957.0 768.5 M1939.0 784.0 L1957.0 776.0 M1939.0 791.5 L1957.0 783.5 M1939.0 799.0 L1957.0 791.0 M1939.0 806.5 L1957.0 798.5 M1939.0 814.0 L1957.0 806.0" stroke="url(#f111)" stroke-width="3.8" fill="none"/>
</g>
<g filter="url(#b2)">
<path d="M2143.0 163 L2151.0 800" stroke="url(#f112)" stroke-width="16" fill="none"/>
<path d="M2303.6 163 L2310.3 800" stroke="url(#f113)" stroke-width="16" fill="none"/>
<path d="M2318.3 163 L2326.4 800" stroke="url(#f114)" stroke-width="16" fill="none"/>
<path d="M2463.7 163 L2470.0 800" stroke="url(#f115)" stroke-width="16" fill="none"/>
<path d="M2478.9 163 L2486.5 800" stroke="url(#f116)" stroke-width="16" fill="none"/>
<path d="M2494.5 163 L2502.5 800" stroke="url(#f117)" stroke-width="16" fill="none"/>
</g>
<g filter="url(#bs)">
<path d="M2143.0 163 L2151.0 805" stroke="url(#f118)" stroke-width="6" fill="none"/>
<path d="M2303.6 163 L2310.3 805" stroke="url(#f119)" stroke-width="6" fill="none"/>
<path d="M2318.3 163 L2326.4 805" stroke="url(#f120)" stroke-width="6" fill="none"/>
<path d="M2463.7 163 L2470.0 805" stroke="url(#f121)" stroke-width="6" fill="none"/>
<path d="M2478.9 163 L2486.5 805" stroke="url(#f122)" stroke-width="6" fill="none"/>
<path d="M2494.5 163 L2502.5 805" stroke="url(#f123)" stroke-width="6" fill="none"/>
</g>
<path d="M2143.0 163 L2151.0 805" stroke="url(#f124)" stroke-width="3" fill="none"/>
<path d="M2303.6 163 L2310.3 805" stroke="url(#f125)" stroke-width="3" fill="none"/>
<path d="M2318.3 163 L2326.4 805" stroke="url(#f126)" stroke-width="3" fill="none"/>
<path d="M2463.7 163 L2470.0 805" stroke="url(#f127)" stroke-width="3" fill="none"/>
<path d="M2478.9 163 L2486.5 805" stroke="url(#f128)" stroke-width="3" fill="none"/>
<path d="M2494.5 163 L2502.5 805" stroke="url(#f129)" stroke-width="3" fill="none"/>
<g filter="url(#bh)">
<rect x="2147.0" y="798" width="8" height="100" fill="rgb(156,156,156)" fill-opacity="0.85"/>
<rect x="2306.3" y="798" width="8" height="100" fill="rgb(156,156,156)" fill-opacity="0.85"/>
<rect x="2322.4" y="798" width="8" height="100" fill="rgb(156,156,156)" fill-opacity="0.85"/>
<rect x="2466.0" y="798" width="8" height="100" fill="rgb(156,156,156)" fill-opacity="0.85"/>
<rect x="2482.5" y="798" width="8" height="100" fill="rgb(156,156,156)" fill-opacity="0.85"/>
<rect x="2498.5" y="798" width="8" height="100" fill="rgb(156,156,156)" fill-opacity="0.85"/>
</g>
<rect x="384.4" y="886.3" width="2.2" height="11.7" fill="rgb(63,63,63)" fill-opacity="0.9"/>
<rect x="391.9" y="888.2" width="1.2" height="9.8" fill="rgb(64,64,64)" fill-opacity="0.9"/>
<rect x="399.5" y="884.9" width="1.7" height="13.1" fill="rgb(42,42,42)" fill-opacity="0.9"/>
<rect x="408.5" y="889.6" width="1.2" height="8.4" fill="rgb(41,41,41)" fill-opacity="0.9"/>
<rect x="411.6" y="891.0" width="1.7" height="7.0" fill="rgb(47,47,47)" fill-opacity="0.9"/>
<rect x="415.8" y="885.8" width="2.2" height="12.2" fill="rgb(42,42,42)" fill-opacity="0.9"/>
<rect x="421.9" y="891.8" width="1.2" height="6.2" fill="rgb(68,68,68)" fill-opacity="0.9"/>
<rect x="426.3" y="891.1" width="1.2" height="6.9" fill="rgb(68,68,68)" fill-opacity="0.9"/>
<rect x="431.4" y="884.3" width="2.2" height="13.7" fill="rgb(55,55,55)" fill-opacity="0.9"/>
<rect x="438.7" y="891.4" width="1.2" height="6.6" fill="rgb(68,68,68)" fill-opacity="0.9"/>
<rect x="448.5" y="885.0" width="1.7" height="13.0" fill="rgb(47,47,47)" fill-opacity="0.9"/>
<rect x="454.4" y="884.6" width="1.7" height="13.4" fill="rgb(46,46,46)" fill-opacity="0.9"/>
<rect x="459.5" y="887.6" width="2.2" height="10.4" fill="rgb(38,38,38)" fill-opacity="0.9"/>
<rect x="467.5" y="892.4" width="1.7" height="5.6" fill="rgb(49,49,49)" fill-opacity="0.9"/>
<rect x="473.8" y="890.2" width="2.2" height="7.8" fill="rgb(53,53,53)" fill-opacity="0.9"/>
<rect x="478.1" y="890.7" width="2.2" height="7.3" fill="rgb(67,67,67)" fill-opacity="0.9"/>
<rect x="483.6" y="889.4" width="1.7" height="8.6" fill="rgb(55,55,55)" fill-opacity="0.9"/>
<rect x="489.1" y="887.8" width="1.2" height="10.2" fill="rgb(39,39,39)" fill-opacity="0.9"/>
<rect x="497.1" y="887.4" width="1.2" height="10.6" fill="rgb(67,67,67)" fill-opacity="0.9"/>
<rect x="505.4" y="884.6" width="1.7" height="13.4" fill="rgb(67,67,67)" fill-opacity="0.9"/>
<rect x="512.0" y="885.0" width="1.7" height="13.0" fill="rgb(46,46,46)" fill-opacity="0.9"/>
<rect x="515.7" y="886.3" width="1.7" height="11.7" fill="rgb(63,63,63)" fill-opacity="0.9"/>
<rect x="519.0" y="884.5" width="1.7" height="13.5" fill="rgb(41,41,41)" fill-opacity="0.9"/>
<rect x="525.6" y="889.7" width="1.7" height="8.3" fill="rgb(43,43,43)" fill-opacity="0.9"/>
<rect x="535.0" y="888.1" width="1.7" height="9.9" fill="rgb(48,48,48)" fill-opacity="0.9"/>
<rect x="540.2" y="885.8" width="2.2" height="12.2" fill="rgb(57,57,57)" fill-opacity="0.9"/>
<rect x="548.0" y="884.0" width="1.2" height="14.0" fill="rgb(43,43,43)" fill-opacity="0.9"/>
<rect x="551.6" y="887.6" width="1.2" height="10.4" fill="rgb(67,67,67)" fill-opacity="0.9"/>
<rect x="556.2" y="887.7" width="1.7" height="10.3" fill="rgb(64,64,64)" fill-opacity="0.9"/>
<rect x="563.8" y="891.7" width="2.2" height="6.3" fill="rgb(68,68,68)" fill-opacity="0.9"/>
<rect x="567.0" y="888.6" width="1.2" height="9.4" fill="rgb(64,64,64)" fill-opacity="0.9"/>
<rect x="576.9" y="887.9" width="1.7" height="10.1" fill="rgb(42,42,42)" fill-opacity="0.9"/>
<rect x="580.6" y="889.1" width="1.7" height="8.9" fill="rgb(43,43,43)" fill-opacity="0.9"/>
<rect x="585.7" y="888.9" width="1.2" height="9.1" fill="rgb(69,69,69)" fill-opacity="0.9"/>
<rect x="595.5" y="888.9" width="2.2" height="9.1" fill="rgb(53,53,53)" fill-opacity="0.9"/>
<rect x="600.8" y="890.5" width="1.2" height="7.5" fill="rgb(53,53,53)" fill-opacity="0.9"/>
<rect x="604.5" y="885.6" width="1.2" height="12.4" fill="rgb(55,55,55)" fill-opacity="0.9"/>
<rect x="611.9" y="888.5" width="1.2" height="9.5" fill="rgb(49,49,49)" fill-opacity="0.9"/>
<rect x="618.4" y="888.4" width="2.2" height="9.6" fill="rgb(55,55,55)" fill-opacity="0.9"/>
<rect x="623.9" y="885.9" width="2.2" height="12.1" fill="rgb(62,62,62)" fill-opacity="0.9"/>
<rect x="631.0" y="892.7" width="2.2" height="5.3" fill="rgb(48,48,48)" fill-opacity="0.9"/>
<rect x="639.0" y="890.5" width="2.2" height="7.5" fill="rgb(53,53,53)" fill-opacity="0.9"/>
<rect x="647.0" y="884.4" width="1.2" height="13.6" fill="rgb(49,49,49)" fill-opacity="0.9"/>
<rect x="654.0" y="892.9" width="1.7" height="5.1" fill="rgb(55,55,55)" fill-opacity="0.9"/>
<rect x="659.3" y="890.5" width="2.2" height="7.5" fill="rgb(47,47,47)" fill-opacity="0.9"/>
<rect x="666.8" y="885.8" width="2.2" height="12.2" fill="rgb(49,49,49)" fill-opacity="0.9"/>
<rect x="672.3" y="884.6" width="1.2" height="13.4" fill="rgb(51,51,51)" fill-opacity="0.9"/>
<rect x="681.4" y="886.8" width="1.7" height="11.2" fill="rgb(68,68,68)" fill-opacity="0.9"/>
<rect x="688.0" y="888.2" width="1.7" height="9.8" fill="rgb(43,43,43)" fill-opacity="0.9"/>
<rect x="697.5" y="888.7" width="2.2" height="9.3" fill="rgb(59,59,59)" fill-opacity="0.9"/>
<rect x="705.2" y="889.3" width="2.2" height="8.7" fill="rgb(57,57,57)" fill-opacity="0.9"/>
<rect x="711.9" y="884.6" width="2.2" height="13.4" fill="rgb(48,48,48)" fill-opacity="0.9"/>
<rect x="720.3" y="887.3" width="1.2" height="10.7" fill="rgb(60,60,60)" fill-opacity="0.9"/>
<rect x="724.6" y="887.7" width="1.2" height="10.3" fill="rgb(57,57,57)" fill-opacity="0.9"/>
<rect x="729.2" y="886.8" width="1.2" height="11.2" fill="rgb(58,58,58)" fill-opacity="0.9"/>
<rect x="739.1" y="884.2" width="1.2" height="13.8" fill="rgb(43,43,43)" fill-opacity="0.9"/>
<rect x="742.9" y="884.3" width="2.2" height="13.7" fill="rgb(53,53,53)" fill-opacity="0.9"/>
<rect x="746.1" y="888.8" width="2.2" height="9.2" fill="rgb(50,50,50)" fill-opacity="0.9"/>
<rect x="749.6" y="891.2" width="1.7" height="6.8" fill="rgb(60,60,60)" fill-opacity="0.9"/>
<rect x="752.6" y="889.4" width="1.7" height="8.6" fill="rgb(47,47,47)" fill-opacity="0.9"/>
<rect x="761.7" y="886.8" width="1.2" height="11.2" fill="rgb(55,55,55)" fill-opacity="0.9"/>
<rect x="768.5" y="890.3" width="2.2" height="7.7" fill="rgb(47,47,47)" fill-opacity="0.9"/>
<rect x="773.9" y="887.8" width="1.2" height="10.2" fill="rgb(68,68,68)" fill-opacity="0.9"/>
<rect x="779.8" y="885.7" width="1.7" height="12.3" fill="rgb(58,58,58)" fill-opacity="0.9"/>
<rect x="786.1" y="891.6" width="1.7" height="6.4" fill="rgb(50,50,50)" fill-opacity="0.9"/>
<rect x="795.8" y="884.3" width="1.7" height="13.7" fill="rgb(57,57,57)" fill-opacity="0.9"/>
<rect x="804.6" y="887.0" width="1.7" height="11.0" fill="rgb(50,50,50)" fill-opacity="0.9"/>
<rect x="811.5" y="887.5" width="2.2" height="10.5" fill="rgb(43,43,43)" fill-opacity="0.9"/>
<rect x="820.7" y="887.9" width="1.2" height="10.1" fill="rgb(51,51,51)" fill-opacity="0.9"/>
<rect x="827.1" y="888.7" width="1.7" height="9.3" fill="rgb(60,60,60)" fill-opacity="0.9"/>
<rect x="836.8" y="884.8" width="1.7" height="13.2" fill="rgb(56,56,56)" fill-opacity="0.9"/>
<rect x="845.0" y="890.3" width="1.2" height="7.7" fill="rgb(46,46,46)" fill-opacity="0.9"/>
<rect x="850.3" y="884.1" width="1.7" height="13.9" fill="rgb(53,53,53)" fill-opacity="0.9"/>
<rect x="854.3" y="892.8" width="1.7" height="5.2" fill="rgb(58,58,58)" fill-opacity="0.9"/>
<rect x="859.0" y="892.6" width="1.7" height="5.4" fill="rgb(42,42,42)" fill-opacity="0.9"/>
<rect x="862.1" y="888.2" width="1.7" height="9.8" fill="rgb(47,47,47)" fill-opacity="0.9"/>
<rect x="870.5" y="890.8" width="1.2" height="7.2" fill="rgb(46,46,46)" fill-opacity="0.9"/>
<rect x="878.6" y="890.4" width="1.7" height="7.6" fill="rgb(53,53,53)" fill-opacity="0.9"/>
<rect x="885.2" y="885.2" width="1.2" height="12.8" fill="rgb(65,65,65)" fill-opacity="0.9"/>
<rect x="888.3" y="891.9" width="2.2" height="6.1" fill="rgb(47,47,47)" fill-opacity="0.9"/>
<rect x="893.7" y="890.3" width="1.7" height="7.7" fill="rgb(54,54,54)" fill-opacity="0.9"/>
<rect x="899.1" y="886.9" width="1.2" height="11.1" fill="rgb(63,63,63)" fill-opacity="0.9"/>
<rect x="902.4" y="890.7" width="1.2" height="7.3" fill="rgb(52,52,52)" fill-opacity="0.9"/>
<rect x="911.6" y="888.1" width="1.7" height="9.9" fill="rgb(39,39,39)" fill-opacity="0.9"/>
<rect x="918.8" y="886.8" width="2.2" height="11.2" fill="rgb(67,67,67)" fill-opacity="0.9"/>
<rect x="925.1" y="884.8" width="1.7" height="13.2" fill="rgb(50,50,50)" fill-opacity="0.9"/>
<rect x="932.9" y="886.5" width="1.7" height="11.5" fill="rgb(66,66,66)" fill-opacity="0.9"/>
<rect x="941.7" y="892.4" width="2.2" height="5.6" fill="rgb(64,64,64)" fill-opacity="0.9"/>
<rect x="950.2" y="887.8" width="1.7" height="10.2" fill="rgb(58,58,58)" fill-opacity="0.9"/>
<rect x="959.6" y="891.7" width="2.2" height="6.3" fill="rgb(53,53,53)" fill-opacity="0.9"/>
<rect x="968.8" y="884.2" width="1.7" height="13.8" fill="rgb(55,55,55)" fill-opacity="0.9"/>
<rect x="975.9" y="885.7" width="1.2" height="12.3" fill="rgb(40,40,40)" fill-opacity="0.9"/>
<rect x="980.8" y="892.2" width="1.2" height="5.8" fill="rgb(40,40,40)" fill-opacity="0.9"/>
<rect x="986.1" y="889.1" width="1.7" height="8.9" fill="rgb(40,40,40)" fill-opacity="0.9"/>
<rect x="994.0" y="892.6" width="1.2" height="5.4" fill="rgb(64,64,64)" fill-opacity="0.9"/>
<rect x="1001.3" y="885.6" width="1.2" height="12.4" fill="rgb(42,42,42)" fill-opacity="0.9"/>
<rect x="1011.3" y="886.6" width="1.2" height="11.4" fill="rgb(52,52,52)" fill-opacity="0.9"/>
<rect x="1018.5" y="889.3" width="2.2" height="8.7" fill="rgb(43,43,43)" fill-opacity="0.9"/>
<rect x="1023.0" y="888.0" width="2.2" height="10.0" fill="rgb(58,58,58)" fill-opacity="0.9"/>
<rect x="1026.5" y="892.5" width="2.2" height="5.5" fill="rgb(56,56,56)" fill-opacity="0.9"/>
<rect x="1032.3" y="887.4" width="1.2" height="10.6" fill="rgb(39,39,39)" fill-opacity="0.9"/>
<rect x="1037.5" y="887.6" width="2.2" height="10.4" fill="rgb(53,53,53)" fill-opacity="0.9"/>
<rect x="1043.1" y="892.5" width="1.2" height="5.5" fill="rgb(60,60,60)" fill-opacity="0.9"/>
<rect x="1050.1" y="886.9" width="2.2" height="11.1" fill="rgb(47,47,47)" fill-opacity="0.9"/>
<rect x="1057.0" y="891.0" width="1.2" height="7.0" fill="rgb(40,40,40)" fill-opacity="0.9"/>
<rect x="1061.7" y="886.2" width="1.2" height="11.8" fill="rgb(54,54,54)" fill-opacity="0.9"/>
<rect x="1070.4" y="885.2" width="1.7" height="12.8" fill="rgb(52,52,52)" fill-opacity="0.9"/>
<rect x="1074.7" y="886.6" width="1.2" height="11.4" fill="rgb(58,58,58)" fill-opacity="0.9"/>
<rect x="1081.7" y="892.7" width="2.2" height="5.3" fill="rgb(65,65,65)" fill-opacity="0.9"/>
<rect x="1088.8" y="890.9" width="1.7" height="7.1" fill="rgb(65,65,65)" fill-opacity="0.9"/>
<rect x="1098.6" y="892.0" width="2.2" height="6.0" fill="rgb(54,54,54)" fill-opacity="0.9"/>
<rect x="1106.6" y="892.5" width="1.7" height="5.5" fill="rgb(43,43,43)" fill-opacity="0.9"/>
<rect x="1114.4" y="891.0" width="2.2" height="7.0" fill="rgb(42,42,42)" fill-opacity="0.9"/>
<rect x="1120.9" y="891.1" width="1.7" height="6.9" fill="rgb(60,60,60)" fill-opacity="0.9"/>
<rect x="1126.3" y="890.9" width="2.2" height="7.1" fill="rgb(48,48,48)" fill-opacity="0.9"/>
<rect x="1134.3" y="885.8" width="2.2" height="12.2" fill="rgb(50,50,50)" fill-opacity="0.9"/>
<rect x="1143.1" y="887.2" width="1.7" height="10.8" fill="rgb(63,63,63)" fill-opacity="0.9"/>
<rect x="1152.8" y="889.7" width="2.2" height="8.3" fill="rgb(39,39,39)" fill-opacity="0.9"/>
<rect x="1157.3" y="891.4" width="1.2" height="6.6" fill="rgb(40,40,40)" fill-opacity="0.9"/>
<rect x="1160.6" y="891.2" width="1.7" height="6.8" fill="rgb(39,39,39)" fill-opacity="0.9"/>
<rect x="1168.2" y="889.9" width="1.7" height="8.1" fill="rgb(51,51,51)" fill-opacity="0.9"/>
<rect x="1177.4" y="887.4" width="1.7" height="10.6" fill="rgb(51,51,51)" fill-opacity="0.9"/>
<rect x="1183.6" y="891.3" width="1.2" height="6.7" fill="rgb(58,58,58)" fill-opacity="0.9"/>
<rect x="1189.3" y="889.5" width="1.2" height="8.5" fill="rgb(65,65,65)" fill-opacity="0.9"/>
<rect x="1196.1" y="892.0" width="1.7" height="6.0" fill="rgb(63,63,63)" fill-opacity="0.9"/>
<rect x="1203.8" y="892.7" width="1.7" height="5.3" fill="rgb(66,66,66)" fill-opacity="0.9"/>
<rect x="1213.3" y="889.7" width="2.2" height="8.3" fill="rgb(67,67,67)" fill-opacity="0.9"/>
<rect x="1216.5" y="888.9" width="1.2" height="9.1" fill="rgb(64,64,64)" fill-opacity="0.9"/>
<rect x="1220.3" y="887.0" width="2.2" height="11.0" fill="rgb(47,47,47)" fill-opacity="0.9"/>
<rect x="1225.0" y="884.1" width="2.2" height="13.9" fill="rgb(39,39,39)" fill-opacity="0.9"/>
<rect x="1228.1" y="890.9" width="1.7" height="7.1" fill="rgb(41,41,41)" fill-opacity="0.9"/>
<rect x="1237.5" y="886.6" width="1.2" height="11.4" fill="rgb(59,59,59)" fill-opacity="0.9"/>
<rect x="1243.8" y="890.5" width="2.2" height="7.5" fill="rgb(61,61,61)" fill-opacity="0.9"/>
<rect x="1250.1" y="886.0" width="1.2" height="12.0" fill="rgb(44,44,44)" fill-opacity="0.9"/>
<rect x="1259.7" y="887.2" width="1.7" height="10.8" fill="rgb(51,51,51)" fill-opacity="0.9"/>
<rect x="1262.7" y="892.5" width="1.7" height="5.5" fill="rgb(62,62,62)" fill-opacity="0.9"/>
<rect x="1266.9" y="892.7" width="2.2" height="5.3" fill="rgb(64,64,64)" fill-opacity="0.9"/>
<rect x="1273.8" y="884.5" width="1.2" height="13.5" fill="rgb(60,60,60)" fill-opacity="0.9"/>
<rect x="1283.1" y="888.6" width="1.2" height="9.4" fill="rgb(67,67,67)" fill-opacity="0.9"/>
<rect x="1290.9" y="887.2" width="1.2" height="10.8" fill="rgb(53,53,53)" fill-opacity="0.9"/>
<rect x="1294.2" y="885.5" width="2.2" height="12.5" fill="rgb(52,52,52)" fill-opacity="0.9"/>
<rect x="1297.6" y="892.7" width="1.2" height="5.3" fill="rgb(68,68,68)" fill-opacity="0.9"/>
<rect x="1305.5" y="887.2" width="1.2" height="10.8" fill="rgb(44,44,44)" fill-opacity="0.9"/>
<rect x="1309.1" y="890.2" width="2.2" height="7.8" fill="rgb(42,42,42)" fill-opacity="0.9"/>
<rect x="1319.0" y="891.5" width="2.2" height="6.5" fill="rgb(41,41,41)" fill-opacity="0.9"/>
<rect x="1323.5" y="892.8" width="1.7" height="5.2" fill="rgb(55,55,55)" fill-opacity="0.9"/>
<rect x="1329.4" y="886.1" width="1.2" height="11.9" fill="rgb(54,54,54)" fill-opacity="0.9"/>
<rect x="1337.5" y="884.8" width="1.7" height="13.2" fill="rgb(48,48,48)" fill-opacity="0.9"/>
<rect x="1346.7" y="884.0" width="1.2" height="14.0" fill="rgb(55,55,55)" fill-opacity="0.9"/>
<rect x="1351.9" y="892.2" width="1.7" height="5.8" fill="rgb(62,62,62)" fill-opacity="0.9"/>
<rect x="1357.1" y="891.8" width="1.2" height="6.2" fill="rgb(41,41,41)" fill-opacity="0.9"/>
<rect x="1365.0" y="885.8" width="2.2" height="12.2" fill="rgb(68,68,68)" fill-opacity="0.9"/>
<rect x="1369.7" y="892.4" width="1.2" height="5.6" fill="rgb(60,60,60)" fill-opacity="0.9"/>
<rect x="1377.6" y="885.8" width="1.2" height="12.2" fill="rgb(65,65,65)" fill-opacity="0.9"/>
<rect x="1381.1" y="886.1" width="2.2" height="11.9" fill="rgb(50,50,50)" fill-opacity="0.9"/>
<rect x="1384.1" y="890.4" width="1.2" height="7.6" fill="rgb(67,67,67)" fill-opacity="0.9"/>
<rect x="1391.2" y="889.0" width="2.2" height="9.0" fill="rgb(63,63,63)" fill-opacity="0.9"/>
<rect x="1399.6" y="892.8" width="1.7" height="5.2" fill="rgb(40,40,40)" fill-opacity="0.9"/>
<rect x="1404.5" y="885.7" width="1.2" height="12.3" fill="rgb(50,50,50)" fill-opacity="0.9"/>
<rect x="1409.8" y="890.2" width="1.7" height="7.8" fill="rgb(42,42,42)" fill-opacity="0.9"/>
<rect x="1417.5" y="890.4" width="2.2" height="7.6" fill="rgb(40,40,40)" fill-opacity="0.9"/>
<rect x="1424.4" y="892.8" width="1.2" height="5.2" fill="rgb(40,40,40)" fill-opacity="0.9"/>
<rect x="1433.2" y="889.1" width="2.2" height="8.9" fill="rgb(46,46,46)" fill-opacity="0.9"/>
<rect x="1436.3" y="888.3" width="1.2" height="9.7" fill="rgb(42,42,42)" fill-opacity="0.9"/>
<rect x="1441.6" y="892.9" width="1.2" height="5.1" fill="rgb(56,56,56)" fill-opacity="0.9"/>
<rect x="1449.7" y="892.1" width="1.2" height="5.9" fill="rgb(54,54,54)" fill-opacity="0.9"/>
<rect x="1457.1" y="891.7" width="1.7" height="6.3" fill="rgb(62,62,62)" fill-opacity="0.9"/>
<rect x="1465.7" y="891.9" width="1.2" height="6.1" fill="rgb(48,48,48)" fill-opacity="0.9"/>
<rect x="1471.9" y="889.1" width="2.2" height="8.9" fill="rgb(52,52,52)" fill-opacity="0.9"/>
<rect x="1481.5" y="888.2" width="2.2" height="9.8" fill="rgb(68,68,68)" fill-opacity="0.9"/>
<rect x="1484.5" y="891.9" width="2.2" height="6.1" fill="rgb(64,64,64)" fill-opacity="0.9"/>
<rect x="1487.8" y="884.2" width="2.2" height="13.8" fill="rgb(39,39,39)" fill-opacity="0.9"/>
<rect x="1492.5" y="886.7" width="1.7" height="11.3" fill="rgb(49,49,49)" fill-opacity="0.9"/>
<rect x="1497.0" y="890.5" width="2.2" height="7.5" fill="rgb(44,44,44)" fill-opacity="0.9"/>
<rect x="1503.6" y="886.1" width="1.7" height="11.9" fill="rgb(62,62,62)" fill-opacity="0.9"/>
<rect x="1509.1" y="890.8" width="1.2" height="7.2" fill="rgb(68,68,68)" fill-opacity="0.9"/>
<rect x="1516.4" y="889.4" width="1.2" height="8.6" fill="rgb(43,43,43)" fill-opacity="0.9"/>
<rect x="1522.8" y="892.7" width="1.2" height="5.3" fill="rgb(43,43,43)" fill-opacity="0.9"/>
<rect x="1531.1" y="890.5" width="1.7" height="7.5" fill="rgb(66,66,66)" fill-opacity="0.9"/>
<rect x="1537.4" y="888.8" width="1.2" height="9.2" fill="rgb(55,55,55)" fill-opacity="0.9"/>
<rect x="1546.0" y="889.6" width="2.2" height="8.4" fill="rgb(39,39,39)" fill-opacity="0.9"/>
<rect x="1553.3" y="887.4" width="1.2" height="10.6" fill="rgb(63,63,63)" fill-opacity="0.9"/>
<rect x="1558.5" y="892.8" width="1.7" height="5.2" fill="rgb(48,48,48)" fill-opacity="0.9"/>
<rect x="1565.0" y="888.1" width="1.7" height="9.9" fill="rgb(59,59,59)" fill-opacity="0.9"/>
<rect x="1574.9" y="885.7" width="2.2" height="12.3" fill="rgb(67,67,67)" fill-opacity="0.9"/>
<rect x="1581.8" y="892.4" width="1.7" height="5.6" fill="rgb(43,43,43)" fill-opacity="0.9"/>
<rect x="1587.3" y="887.7" width="2.2" height="10.3" fill="rgb(59,59,59)" fill-opacity="0.9"/>
<rect x="1591.8" y="890.4" width="1.7" height="7.6" fill="rgb(39,39,39)" fill-opacity="0.9"/>
<rect x="1599.0" y="885.2" width="1.7" height="12.8" fill="rgb(67,67,67)" fill-opacity="0.9"/>
<rect x="1604.2" y="884.6" width="2.2" height="13.4" fill="rgb(47,47,47)" fill-opacity="0.9"/>
<rect x="1608.8" y="892.7" width="1.7" height="5.3" fill="rgb(41,41,41)" fill-opacity="0.9"/>
<rect x="1618.1" y="886.8" width="2.2" height="11.2" fill="rgb(64,64,64)" fill-opacity="0.9"/>
<rect x="1625.4" y="887.9" width="1.2" height="10.1" fill="rgb(53,53,53)" fill-opacity="0.9"/>
<rect x="1634.6" y="890.8" width="2.2" height="7.2" fill="rgb(68,68,68)" fill-opacity="0.9"/>
<rect x="1640.6" y="884.3" width="1.7" height="13.7" fill="rgb(59,59,59)" fill-opacity="0.9"/>
<rect x="1644.8" y="887.1" width="2.2" height="10.9" fill="rgb(66,66,66)" fill-opacity="0.9"/>
<rect x="1652.1" y="889.5" width="2.2" height="8.5" fill="rgb(42,42,42)" fill-opacity="0.9"/>
<rect x="1661.4" y="886.8" width="1.2" height="11.2" fill="rgb(68,68,68)" fill-opacity="0.9"/>
<rect x="1670.6" y="891.1" width="1.7" height="6.9" fill="rgb(48,48,48)" fill-opacity="0.9"/>
<rect x="1679.2" y="892.3" width="1.2" height="5.7" fill="rgb(67,67,67)" fill-opacity="0.9"/>
<rect x="1686.6" y="886.1" width="1.2" height="11.9" fill="rgb(45,45,45)" fill-opacity="0.9"/>
<rect x="1693.6" y="887.4" width="2.2" height="10.6" fill="rgb(58,58,58)" fill-opacity="0.9"/>
<rect x="1701.7" y="889.2" width="2.2" height="8.8" fill="rgb(51,51,51)" fill-opacity="0.9"/>
<rect x="1708.8" y="890.8" width="1.2" height="7.2" fill="rgb(51,51,51)" fill-opacity="0.9"/>
<rect x="1716.1" y="884.3" width="1.2" height="13.7" fill="rgb(44,44,44)" fill-opacity="0.9"/>
<rect x="1720.1" y="890.3" width="2.2" height="7.7" fill="rgb(55,55,55)" fill-opacity="0.9"/>
<rect x="1724.4" y="891.3" width="2.2" height="6.7" fill="rgb(56,56,56)" fill-opacity="0.9"/>
<rect x="1732.9" y="890.0" width="1.7" height="8.0" fill="rgb(41,41,41)" fill-opacity="0.9"/>
<rect x="1736.9" y="888.3" width="1.2" height="9.7" fill="rgb(40,40,40)" fill-opacity="0.9"/>
<rect x="1745.8" y="887.2" width="1.2" height="10.8" fill="rgb(67,67,67)" fill-opacity="0.9"/>
<rect x="1755.1" y="887.5" width="1.2" height="10.5" fill="rgb(63,63,63)" fill-opacity="0.9"/>
<rect x="1758.1" y="886.9" width="1.7" height="11.1" fill="rgb(42,42,42)" fill-opacity="0.9"/>
<rect x="1762.2" y="887.5" width="1.7" height="10.5" fill="rgb(41,41,41)" fill-opacity="0.9"/>
<rect x="1770.3" y="885.7" width="2.2" height="12.3" fill="rgb(63,63,63)" fill-opacity="0.9"/>
<rect x="1779.6" y="888.1" width="1.2" height="9.9" fill="rgb(56,56,56)" fill-opacity="0.9"/>
<rect x="1785.1" y="885.7" width="1.7" height="12.3" fill="rgb(44,44,44)" fill-opacity="0.9"/>
<rect x="1790.7" y="888.9" width="2.2" height="9.1" fill="rgb(59,59,59)" fill-opacity="0.9"/>
<rect x="1799.1" y="890.8" width="1.7" height="7.2" fill="rgb(67,67,67)" fill-opacity="0.9"/>
<rect x="1804.7" y="891.9" width="1.7" height="6.1" fill="rgb(57,57,57)" fill-opacity="0.9"/>
<rect x="1808.7" y="893.0" width="1.7" height="5.0" fill="rgb(50,50,50)" fill-opacity="0.9"/>
<rect x="1818.3" y="892.4" width="2.2" height="5.6" fill="rgb(61,61,61)" fill-opacity="0.9"/>
<rect x="1826.3" y="892.9" width="1.7" height="5.1" fill="rgb(63,63,63)" fill-opacity="0.9"/>
<rect x="1834.5" y="891.2" width="1.2" height="6.8" fill="rgb(49,49,49)" fill-opacity="0.9"/>
<rect x="1839.6" y="888.5" width="1.2" height="9.5" fill="rgb(60,60,60)" fill-opacity="0.9"/>
<rect x="1846.6" y="890.3" width="1.2" height="7.7" fill="rgb(49,49,49)" fill-opacity="0.9"/>
<rect x="1853.2" y="892.5" width="1.2" height="5.5" fill="rgb(51,51,51)" fill-opacity="0.9"/>
<rect x="1858.1" y="886.5" width="1.2" height="11.5" fill="rgb(43,43,43)" fill-opacity="0.9"/>
<rect x="1865.0" y="889.1" width="1.7" height="8.9" fill="rgb(44,44,44)" fill-opacity="0.9"/>
<rect x="1874.0" y="890.8" width="1.2" height="7.2" fill="rgb(52,52,52)" fill-opacity="0.9"/>
<rect x="1882.7" y="893.0" width="1.7" height="5.0" fill="rgb(62,62,62)" fill-opacity="0.9"/>
<rect x="1891.3" y="892.8" width="1.7" height="5.2" fill="rgb(55,55,55)" fill-opacity="0.9"/>
<rect x="1900.4" y="892.3" width="1.2" height="5.7" fill="rgb(68,68,68)" fill-opacity="0.9"/>
<rect x="1910.2" y="889.0" width="1.2" height="9.0" fill="rgb(53,53,53)" fill-opacity="0.9"/>
<rect x="1919.9" y="887.6" width="1.7" height="10.4" fill="rgb(64,64,64)" fill-opacity="0.9"/>
<rect x="1926.5" y="892.5" width="2.2" height="5.5" fill="rgb(50,50,50)" fill-opacity="0.9"/>
<rect x="1932.5" y="887.7" width="2.2" height="10.3" fill="rgb(66,66,66)" fill-opacity="0.9"/>
<rect x="1939.8" y="887.7" width="1.7" height="10.3" fill="rgb(45,45,45)" fill-opacity="0.9"/>
<rect x="1948.2" y="889.3" width="1.7" height="8.7" fill="rgb(65,65,65)" fill-opacity="0.9"/>
<rect x="1957.6" y="889.6" width="1.2" height="8.4" fill="rgb(69,69,69)" fill-opacity="0.9"/>
<rect x="1966.9" y="891.7" width="1.7" height="6.3" fill="rgb(62,62,62)" fill-opacity="0.9"/>
<rect x="1975.7" y="892.3" width="1.7" height="5.7" fill="rgb(50,50,50)" fill-opacity="0.9"/>
<rect x="1981.7" y="890.6" width="1.7" height="7.4" fill="rgb(53,53,53)" fill-opacity="0.9"/>
<rect x="1984.7" y="887.3" width="1.7" height="10.7" fill="rgb(62,62,62)" fill-opacity="0.9"/>
<rect x="1988.2" y="886.8" width="1.7" height="11.2" fill="rgb(39,39,39)" fill-opacity="0.9"/>
<rect x="1997.4" y="891.2" width="1.7" height="6.8" fill="rgb(39,39,39)" fill-opacity="0.9"/>
<rect x="2007.1" y="887.6" width="1.2" height="10.4" fill="rgb(42,42,42)" fill-opacity="0.9"/>
<rect x="2010.7" y="889.7" width="1.2" height="8.3" fill="rgb(57,57,57)" fill-opacity="0.9"/>
<rect x="2015.0" y="889.1" width="2.2" height="8.9" fill="rgb(46,46,46)" fill-opacity="0.9"/>
<rect x="2020.6" y="886.0" width="2.2" height="12.0" fill="rgb(43,43,43)" fill-opacity="0.9"/>
<rect x="2029.9" y="885.0" width="1.7" height="13.0" fill="rgb(55,55,55)" fill-opacity="0.9"/>
<rect x="2033.6" y="887.2" width="1.7" height="10.8" fill="rgb(50,50,50)" fill-opacity="0.9"/>
<rect x="2043.0" y="888.1" width="1.2" height="9.9" fill="rgb(52,52,52)" fill-opacity="0.9"/>
<rect x="2052.7" y="891.7" width="1.2" height="6.3" fill="rgb(39,39,39)" fill-opacity="0.9"/>
<rect x="2060.9" y="891.8" width="2.2" height="6.2" fill="rgb(53,53,53)" fill-opacity="0.9"/>
<rect x="2064.3" y="892.9" width="1.2" height="5.1" fill="rgb(45,45,45)" fill-opacity="0.9"/>
<rect x="2070.8" y="887.5" width="1.2" height="10.5" fill="rgb(63,63,63)" fill-opacity="0.9"/>
<rect x="2079.4" y="890.9" width="1.7" height="7.1" fill="rgb(59,59,59)" fill-opacity="0.9"/>
<rect x="2087.8" y="888.0" width="1.2" height="10.0" fill="rgb(52,52,52)" fill-opacity="0.9"/>
<rect x="2095.4" y="884.7" width="2.2" height="13.3" fill="rgb(50,50,50)" fill-opacity="0.9"/>
<rect x="2100.4" y="887.8" width="1.7" height="10.2" fill="rgb(56,56,56)" fill-opacity="0.9"/>
<rect x="2110.3" y="890.3" width="2.2" height="7.7" fill="rgb(43,43,43)" fill-opacity="0.9"/>
<rect x="2113.8" y="889.0" width="2.2" height="9.0" fill="rgb(61,61,61)" fill-opacity="0.9"/>
<rect x="2121.2" y="892.1" width="2.2" height="5.9" fill="rgb(54,54,54)" fill-opacity="0.9"/>
<rect x="2126.8" y="889.3" width="1.2" height="8.7" fill="rgb(52,52,52)" fill-opacity="0.9"/>
<rect x="2133.2" y="887.9" width="1.7" height="10.1" fill="rgb(45,45,45)" fill-opacity="0.9"/>
<rect x="2136.5" y="886.3" width="1.2" height="11.7" fill="rgb(42,42,42)" fill-opacity="0.9"/>
<rect x="2142.1" y="889.9" width="1.7" height="8.1" fill="rgb(63,63,63)" fill-opacity="0.9"/>
<rect x="2150.6" y="886.3" width="1.2" height="11.7" fill="rgb(46,46,46)" fill-opacity="0.9"/>
<rect x="2158.0" y="889.5" width="1.2" height="8.5" fill="rgb(57,57,57)" fill-opacity="0.9"/>
<rect x="2165.9" y="887.7" width="1.2" height="10.3" fill="rgb(65,65,65)" fill-opacity="0.9"/>
<rect x="2173.1" y="887.9" width="1.7" height="10.1" fill="rgb(66,66,66)" fill-opacity="0.9"/>
<rect x="2180.0" y="892.9" width="2.2" height="5.1" fill="rgb(40,40,40)" fill-opacity="0.9"/>
<rect x="2186.5" y="885.2" width="2.2" height="12.8" fill="rgb(39,39,39)" fill-opacity="0.9"/>
<rect x="2192.3" y="889.3" width="1.7" height="8.7" fill="rgb(55,55,55)" fill-opacity="0.9"/>
<rect x="2199.6" y="891.0" width="1.2" height="7.0" fill="rgb(67,67,67)" fill-opacity="0.9"/>
<rect x="2207.6" y="886.5" width="1.2" height="11.5" fill="rgb(56,56,56)" fill-opacity="0.9"/>
<rect x="2211.0" y="888.9" width="2.2" height="9.1" fill="rgb(58,58,58)" fill-opacity="0.9"/>
<rect x="2219.1" y="892.4" width="1.7" height="5.6" fill="rgb(58,58,58)" fill-opacity="0.9"/>
<rect x="2222.9" y="886.2" width="1.7" height="11.8" fill="rgb(46,46,46)" fill-opacity="0.9"/>
<rect x="2228.0" y="885.1" width="2.2" height="12.9" fill="rgb(48,48,48)" fill-opacity="0.9"/>
<rect x="2237.3" y="888.8" width="1.2" height="9.2" fill="rgb(43,43,43)" fill-opacity="0.9"/>
<rect x="2246.9" y="890.2" width="1.7" height="7.8" fill="rgb(57,57,57)" fill-opacity="0.9"/>
<rect x="2250.6" y="889.8" width="1.7" height="8.2" fill="rgb(41,41,41)" fill-opacity="0.9"/>
<rect x="2256.6" y="888.3" width="1.2" height="9.7" fill="rgb(50,50,50)" fill-opacity="0.9"/>
<rect x="2260.6" y="888.6" width="1.7" height="9.4" fill="rgb(59,59,59)" fill-opacity="0.9"/>
<rect x="2270.1" y="889.9" width="1.7" height="8.1" fill="rgb(39,39,39)" fill-opacity="0.9"/>
<rect x="2275.0" y="888.6" width="1.2" height="9.4" fill="rgb(55,55,55)" fill-opacity="0.9"/>
<rect x="2281.9" y="887.0" width="1.7" height="11.0" fill="rgb(51,51,51)" fill-opacity="0.9"/>
<rect x="2290.8" y="890.4" width="1.7" height="7.6" fill="rgb(42,42,42)" fill-opacity="0.9"/>
<rect x="2296.7" y="885.4" width="1.7" height="12.6" fill="rgb(54,54,54)" fill-opacity="0.9"/>
<rect x="2304.1" y="887.2" width="1.2" height="10.8" fill="rgb(68,68,68)" fill-opacity="0.9"/>
<rect x="2312.0" y="892.0" width="2.2" height="6.0" fill="rgb(41,41,41)" fill-opacity="0.9"/>
<rect x="2317.0" y="886.2" width="2.2" height="11.8" fill="rgb(44,44,44)" fill-opacity="0.9"/>
<rect x="2322.6" y="887.3" width="1.7" height="10.7" fill="rgb(60,60,60)" fill-opacity="0.9"/>
<rect x="2326.3" y="885.3" width="1.7" height="12.7" fill="rgb(65,65,65)" fill-opacity="0.9"/>
<rect x="2329.8" y="886.5" width="1.7" height="11.5" fill="rgb(51,51,51)" fill-opacity="0.9"/>
<rect x="2333.2" y="890.3" width="1.2" height="7.7" fill="rgb(44,44,44)" fill-opacity="0.9"/>
<rect x="2341.8" y="884.9" width="1.2" height="13.1" fill="rgb(54,54,54)" fill-opacity="0.9"/>
<rect x="2348.0" y="892.4" width="2.2" height="5.6" fill="rgb(51,51,51)" fill-opacity="0.9"/>
<rect x="2354.8" y="887.1" width="1.7" height="10.9" fill="rgb(59,59,59)" fill-opacity="0.9"/>
<rect x="2364.3" y="884.5" width="1.2" height="13.5" fill="rgb(53,53,53)" fill-opacity="0.9"/>
<rect x="2368.5" y="890.8" width="1.2" height="7.2" fill="rgb(57,57,57)" fill-opacity="0.9"/>
<rect x="2372.1" y="884.1" width="1.7" height="13.9" fill="rgb(55,55,55)" fill-opacity="0.9"/>
<rect x="2375.9" y="890.2" width="1.7" height="7.8" fill="rgb(52,52,52)" fill-opacity="0.9"/>
<rect x="2379.2" y="885.1" width="1.2" height="12.9" fill="rgb(68,68,68)" fill-opacity="0.9"/>
<rect x="2384.9" y="887.3" width="1.7" height="10.7" fill="rgb(66,66,66)" fill-opacity="0.9"/>
<rect x="2394.0" y="886.6" width="1.7" height="11.4" fill="rgb(40,40,40)" fill-opacity="0.9"/>
<rect x="2397.4" y="884.5" width="1.7" height="13.5" fill="rgb(53,53,53)" fill-opacity="0.9"/>
<rect x="2404.3" y="885.8" width="1.7" height="12.2" fill="rgb(58,58,58)" fill-opacity="0.9"/>
<rect x="2409.3" y="886.3" width="1.7" height="11.7" fill="rgb(46,46,46)" fill-opacity="0.9"/>
<rect x="2415.1" y="886.6" width="2.2" height="11.4" fill="rgb(41,41,41)" fill-opacity="0.9"/>
<rect x="2419.5" y="886.7" width="1.2" height="11.3" fill="rgb(61,61,61)" fill-opacity="0.9"/>
<rect x="2425.6" y="890.9" width="2.2" height="7.1" fill="rgb(46,46,46)" fill-opacity="0.9"/>
<rect x="2429.2" y="889.0" width="2.2" height="9.0" fill="rgb(57,57,57)" fill-opacity="0.9"/>
<rect x="2433.4" y="886.7" width="2.2" height="11.3" fill="rgb(41,41,41)" fill-opacity="0.9"/>
<rect x="2442.6" y="887.4" width="2.2" height="10.6" fill="rgb(60,60,60)" fill-opacity="0.9"/>
<rect x="2450.6" y="891.9" width="1.7" height="6.1" fill="rgb(62,62,62)" fill-opacity="0.9"/>
<rect x="2457.7" y="888.7" width="2.2" height="9.3" fill="rgb(64,64,64)" fill-opacity="0.9"/>
<rect x="2467.1" y="890.5" width="1.7" height="7.5" fill="rgb(48,48,48)" fill-opacity="0.9"/>
<rect x="2471.0" y="889.2" width="1.2" height="8.8" fill="rgb(51,51,51)" fill-opacity="0.9"/>
<rect x="2476.1" y="891.2" width="1.2" height="6.8" fill="rgb(67,67,67)" fill-opacity="0.9"/>
<rect x="2479.1" y="884.5" width="1.7" height="13.5" fill="rgb(48,48,48)" fill-opacity="0.9"/>
<rect x="2486.7" y="889.2" width="2.2" height="8.8" fill="rgb(64,64,64)" fill-opacity="0.9"/>
<rect x="2492.9" y="884.8" width="1.7" height="13.2" fill="rgb(54,54,54)" fill-opacity="0.9"/>
<rect x="2500.9" y="887.5" width="1.2" height="10.5" fill="rgb(63,63,63)" fill-opacity="0.9"/>
<rect x="2507.9" y="887.1" width="1.7" height="10.9" fill="rgb(55,55,55)" fill-opacity="0.9"/>
<rect x="2516.3" y="885.5" width="2.2" height="12.5" fill="rgb(40,40,40)" fill-opacity="0.9"/>
<rect x="2519.4" y="884.3" width="1.2" height="13.7" fill="rgb(61,61,61)" fill-opacity="0.9"/>
<rect x="2529.2" y="885.3" width="1.7" height="12.7" fill="rgb(46,46,46)" fill-opacity="0.9"/>
<rect x="2536.7" y="889.5" width="1.2" height="8.5" fill="rgb(58,58,58)" fill-opacity="0.9"/>
<rect x="2544.3" y="884.7" width="1.2" height="13.3" fill="rgb(45,45,45)" fill-opacity="0.9"/>
<rect x="2551.3" y="886.3" width="1.7" height="11.7" fill="rgb(54,54,54)" fill-opacity="0.9"/>
<rect x="2558.4" y="891.0" width="2.2" height="7.0" fill="rgb(41,41,41)" fill-opacity="0.9"/>
<rect x="2565.6" y="886.2" width="2.2" height="11.8" fill="rgb(52,52,52)" fill-opacity="0.9"/>
<rect x="2573.7" y="885.0" width="1.2" height="13.0" fill="rgb(54,54,54)" fill-opacity="0.9"/>
<rect x="2577.7" y="892.5" width="1.2" height="5.5" fill="rgb(39,39,39)" fill-opacity="0.9"/>
<rect x="2581.4" y="888.9" width="1.7" height="9.1" fill="rgb(52,52,52)" fill-opacity="0.9"/>
<rect x="2587.8" y="888.3" width="2.2" height="9.7" fill="rgb(39,39,39)" fill-opacity="0.9"/>
<rect x="2596.2" y="887.4" width="2.2" height="10.6" fill="rgb(64,64,64)" fill-opacity="0.9"/>
<rect x="2603.4" y="884.8" width="1.2" height="13.2" fill="rgb(64,64,64)" fill-opacity="0.9"/>
</g>
<rect x="375.00" y="1553.88" width="637.00" height="52.65" fill="#ff8f00"/>
<rect x="1012.00" y="1237.97" width="957.00" height="52.65" fill="#0040ff"/>
<rect x="1969.00" y="1711.82" width="637.00" height="52.65" fill="#800000"/>
<g stroke="#000" stroke-width="1" fill="none" stroke-dasharray="2 3 1 3" shape-rendering="crispEdges">
<line x1="380.5" y1="1186" x2="380.5" y2="1922"/>
<line x1="457.5" y1="1186" x2="457.5" y2="1922"/>
<line x1="533.5" y1="1186" x2="533.5" y2="1922"/>
<line x1="610.5" y1="1186" x2="610.5" y2="1922"/>
<line x1="686.5" y1="1186" x2="686.5" y2="1922"/>
<line x1="763.5" y1="1186" x2="763.5" y2="1922"/>
<line x1="839.5" y1="1186" x2="839.5" y2="1922"/>
<line x1="916.5" y1="1186" x2="916.5" y2="1922"/>
<line x1="992.5" y1="1186" x2="992.5" y2="1922"/>
<line x1="1069.5" y1="1186" x2="1069.5" y2="1922"/>
<line x1="1145.5" y1="1186" x2="1145.5" y2="1922"/>
<line x1="1222.5" y1="1186" x2="1222.5" y2="1922"/>
<line x1="1299.5" y1="1186" x2="1299.5" y2="1922"/>
<line x1="1375.5" y1="1186" x2="1375.5" y2="1922"/>
<line x1="1452.5" y1="1186" x2="1452.5" y2="1922"/>
<line x1="1528.5" y1="1186" x2="1528.5" y2="1922"/>
<line x1="1605.5" y1="1186" x2="1605.5" y2="1922"/>
<line x1="1681.5" y1="1186" x2="1681.5" y2="1922"/>
<line x1="1758.5" y1="1186" x2="1758.5" y2="1922"/>
<line x1="1834.5" y1="1186" x2="1834.5" y2="1922"/>
<line x1="1911.5" y1="1186" x2="1911.5" y2="1922"/>
<line x1="1987.5" y1="1186" x2="1987.5" y2="1922"/>
<line x1="2064.5" y1="1186" x2="2064.5" y2="1922"/>
<line x1="2140.5" y1="1186" x2="2140.5" y2="1922"/>
<line x1="2217.5" y1="1186" x2="2217.5" y2="1922"/>
<line x1="2293.5" y1="1186" x2="2293.5" y2="1922"/>
<line x1="2370.5" y1="1186" x2="2370.5" y2="1922"/>
<line x1="2446.5" y1="1186" x2="2446.5" y2="1922"/>
<line x1="2523.5" y1="1186" x2="2523.5" y2="1922"/>
<line x1="2599.5" y1="1186" x2="2599.5" y2="1922"/>
<line x1="375" y1="1211.5" x2="2606" y2="1211.5"/>
<line x1="375" y1="1264.5" x2="2606" y2="1264.5"/>
<line x1="375" y1="1317.5" x2="2606" y2="1317.5"/>
<line x1="375" y1="1369.5" x2="2606" y2="1369.5"/>
<line x1="375" y1="1422.5" x2="2606" y2="1422.5"/>
<line x1="375" y1="1474.5" x2="2606" y2="1474.5"/>
<line x1="375" y1="1527.5" x2="2606" y2="1527.5"/>
<line x1="375" y1="1580.5" x2="2606" y2="1580.5"/>
<line x1="375" y1="1632.5" x2="2606" y2="1632.5"/>
<line x1="375" y1="1685.5" x2="2606" y2="1685.5"/>
<line x1="375" y1="1738.5" x2="2606" y2="1738.5"/>
<line x1="375" y1="1790.5" x2="2606" y2="1790.5"/>
<line x1="375" y1="1843.5" x2="2606" y2="1843.5"/>
<line x1="375" y1="1896.5" x2="2606" y2="1896.5"/>
</g>
<g stroke="#000" stroke-width="1" fill="none" shape-rendering="crispEdges">
<line x1="533.5" y1="1922" x2="533.5" y2="1899"/>
<line x1="533.5" y1="1185" x2="533.5" y2="1209"/>
<line x1="916.5" y1="1922" x2="916.5" y2="1899"/>
<line x1="916.5" y1="1185" x2="916.5" y2="1209"/>
<line x1="1299.5" y1="1922" x2="1299.5" y2="1899"/>
<line x1="1299.5" y1="1185" x2="1299.5" y2="1209"/>
<line x1="1681.5" y1="1922" x2="1681.5" y2="1899"/>
<line x1="1681.5" y1="1185" x2="1681.5" y2="1209"/>
<line x1="2064.5" y1="1922" x2="2064.5" y2="1899"/>
<line x1="2064.5" y1="1185" x2="2064.5" y2="1209"/>
<line x1="2446.5" y1="1922" x2="2446.5" y2="1899"/>
<line x1="2446.5" y1="1185" x2="2446.5" y2="1209"/>
<line x1="374" y1="1264.5" x2="398" y2="1264.5"/>
<line x1="2607" y1="1264.5" x2="2583" y2="1264.5"/>
<line x1="374" y1="1369.5" x2="398" y2="1369.5"/>
<line x1="2607" y1="1369.5" x2="2583" y2="1369.5"/>
<line x1="374" y1="1474.5" x2="398" y2="1474.5"/>
<line x1="2607" y1="1474.5" x2="2583" y2="1474.5"/>
<line x1="374" y1="1580.5" x2="398" y2="1580.5"/>
<line x1="2607" y1="1580.5" x2="2583" y2="1580.5"/>
<line x1="374" y1="1685.5" x2="398" y2="1685.5"/>
<line x1="2607" y1="1685.5" x2="2583" y2="1685.5"/>
<line x1="374" y1="1790.5" x2="398" y2="1790.5"/>
<line x1="2607" y1="1790.5" x2="2583" y2="1790.5"/>
<line x1="374" y1="1896.5" x2="398" y2="1896.5"/>
<line x1="2607" y1="1896.5" x2="2583" y2="1896.5"/>
<rect x="374.5" y="1185.5" width="2232" height="737"/>
</g>
<text x="533.30" y="1958" text-anchor="middle">0</text>
<text x="915.92" y="1958" text-anchor="middle">2</text>
<text x="1298.54" y="1958" text-anchor="middle">5</text>
<text x="1681.16" y="1958" text-anchor="middle">8</text>
<text x="2063.78" y="1958" text-anchor="middle">11</text>
<text x="2446.40" y="1958" text-anchor="middle">14</text>
<text x="371.5" y="1276.60" text-anchor="end">2</text>
<text x="371.5" y="1381.90" text-anchor="end">4</text>
<text x="371.5" y="1487.20" text-anchor="end">6</text>
<text x="371.5" y="1592.50" text-anchor="end">8</text>
<text x="371.5" y="1697.80" text-anchor="end">10</text>
<text x="371.5" y="1803.10" text-anchor="end">12</text>
<text x="371.5" y="1908.40" text-anchor="end">14</text>
<text x="1491" y="1988.2" text-anchor="middle">Temps en secondes</text>
<text transform="translate(319.9 1554) rotate(-90)" text-anchor="middle">Unites de sons</text>
<g stroke="#000" stroke-width="1" fill="none" shape-rendering="crispEdges">
<line x1="692.5" y1="162" x2="692.5" y2="185"/>
<line x1="692.5" y1="898" x2="692.5" y2="875"/>
<line x1="1011.5" y1="162" x2="1011.5" y2="185"/>
<line x1="1011.5" y1="898" x2="1011.5" y2="875"/>
<line x1="1331.5" y1="162" x2="1331.5" y2="185"/>
<line x1="1331.5" y1="898" x2="1331.5" y2="875"/>
<line x1="1650.5" y1="162" x2="1650.5" y2="185"/>
<line x1="1650.5" y1="898" x2="1650.5" y2="875"/>
<line x1="1969.5" y1="162" x2="1969.5" y2="185"/>
<line x1="1969.5" y1="898" x2="1969.5" y2="875"/>
<line x1="2288.5" y1="162" x2="2288.5" y2="185"/>
<line x1="2288.5" y1="898" x2="2288.5" y2="875"/>
<line x1="374" y1="285.5" x2="397" y2="285.5"/>
<line x1="2607" y1="285.5" x2="2584" y2="285.5"/>
<line x1="374" y1="438.5" x2="397" y2="438.5"/>
<line x1="2607" y1="438.5" x2="2584" y2="438.5"/>
<line x1="374" y1="591.5" x2="397" y2="591.5"/>
<line x1="2607" y1="591.5" x2="2584" y2="591.5"/>
<line x1="374" y1="744.5" x2="397" y2="744.5"/>
<line x1="2607" y1="744.5" x2="2584" y2="744.5"/>
<line x1="374" y1="897.5" x2="397" y2="897.5"/>
<line x1="2607" y1="897.5" x2="2584" y2="897.5"/>
<rect x="374.5" y="162.5" width="2232" height="736"/>
</g>
<text transform="translate(358.9 528.9) rotate(-90)" text-anchor="middle">Freq [0, 10875] Hz</text>
</svg></body></html>
